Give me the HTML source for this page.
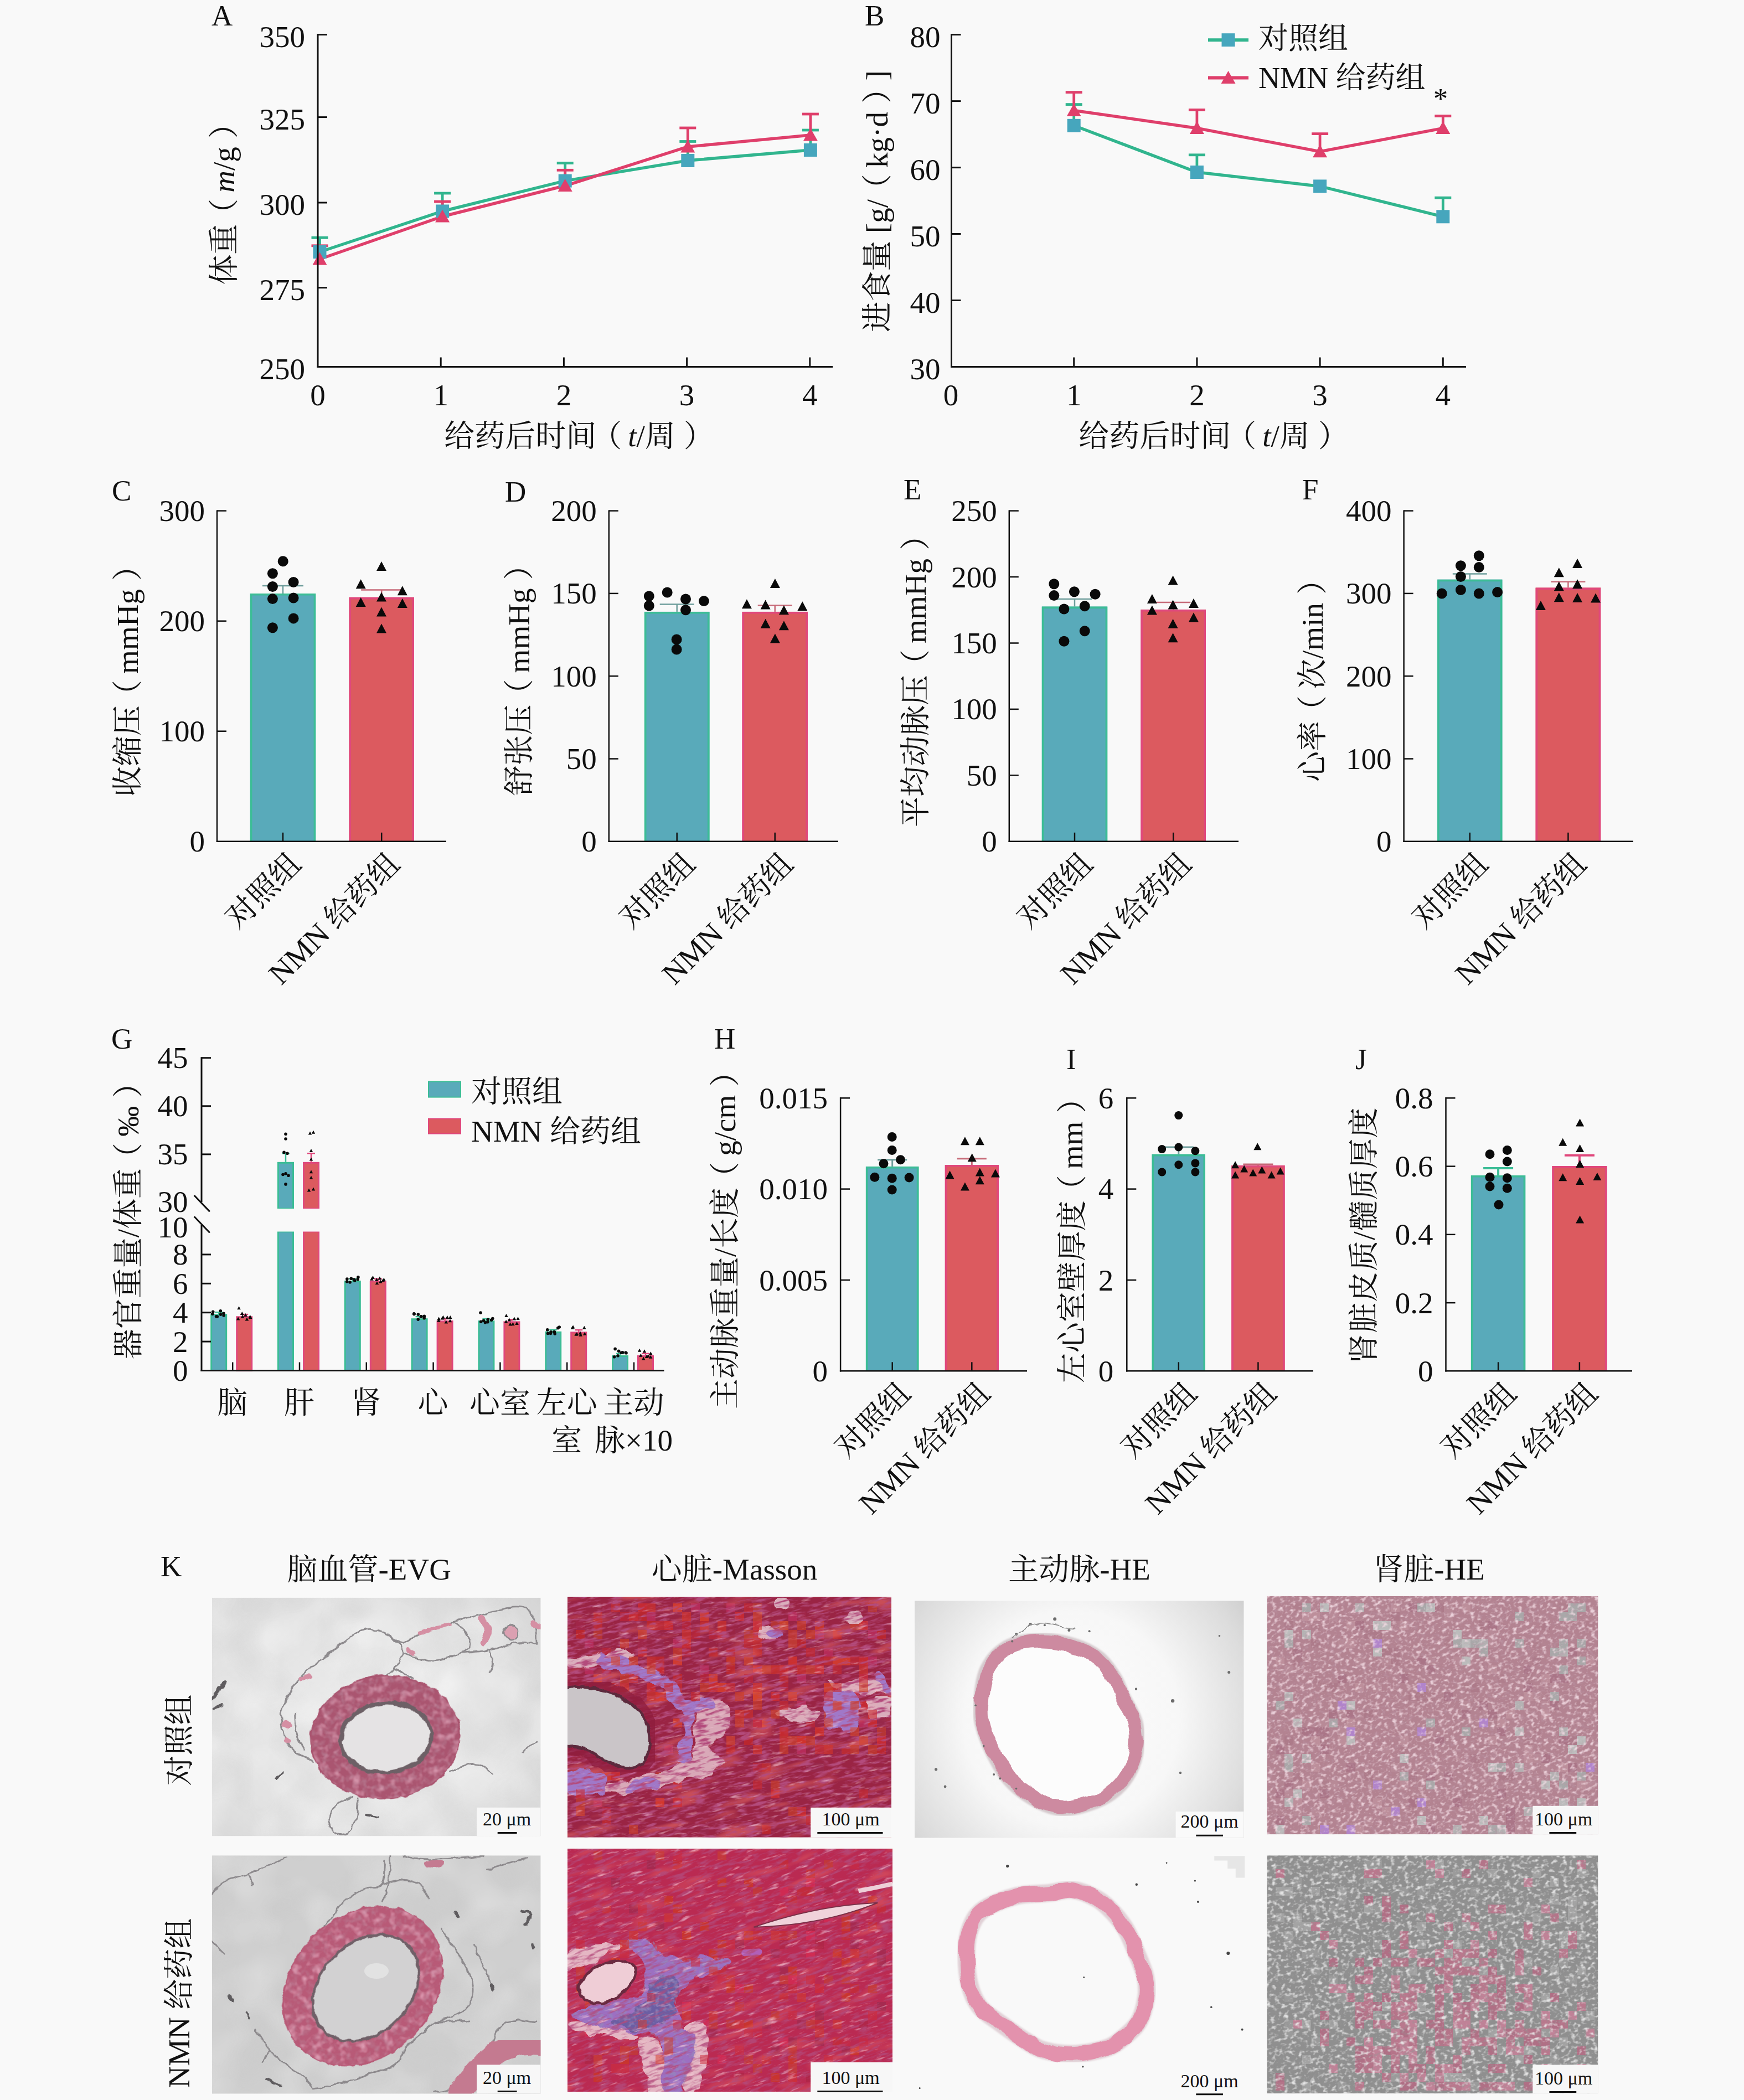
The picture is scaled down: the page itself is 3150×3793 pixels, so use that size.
<!DOCTYPE html>
<html lang="zh"><head><meta charset="utf-8"><title>Figure</title>
<style>
html,body{margin:0;padding:0;background:#f9f9f9;}
svg{display:block;}
text{font-family:"Liberation Serif","Noto Serif CJK SC",serif;fill:#111;}
</style></head><body>
<svg width="3150" height="3793" viewBox="0 0 3150 3793">
<rect width="3150" height="3793" fill="#f9f9f9"/>
<line x1="577.5" y1="455.0" x2="577.5" y2="429.3" stroke="#31b58e" stroke-width="4.8"/>
<line x1="562.5" y1="429.3" x2="592.5" y2="429.3" stroke="#31b58e" stroke-width="4.8"/>
<line x1="799.1" y1="381.5" x2="799.1" y2="349.0" stroke="#31b58e" stroke-width="4.8"/>
<line x1="784.1" y1="349.0" x2="814.1" y2="349.0" stroke="#31b58e" stroke-width="4.8"/>
<line x1="1020.7" y1="326.6" x2="1020.7" y2="294.5" stroke="#31b58e" stroke-width="4.8"/>
<line x1="1005.7" y1="294.5" x2="1035.7" y2="294.5" stroke="#31b58e" stroke-width="4.8"/>
<line x1="1242.3" y1="290.0" x2="1242.3" y2="255.5" stroke="#31b58e" stroke-width="4.8"/>
<line x1="1227.3" y1="255.5" x2="1257.3" y2="255.5" stroke="#31b58e" stroke-width="4.8"/>
<line x1="1463.9" y1="271.0" x2="1463.9" y2="235.0" stroke="#31b58e" stroke-width="4.8"/>
<line x1="1448.9" y1="235.0" x2="1478.9" y2="235.0" stroke="#31b58e" stroke-width="4.8"/>
<line x1="577.5" y1="468.0" x2="577.5" y2="443.8" stroke="#df3f6b" stroke-width="4.8"/>
<line x1="562.5" y1="443.8" x2="592.5" y2="443.8" stroke="#df3f6b" stroke-width="4.8"/>
<line x1="799.1" y1="391.0" x2="799.1" y2="364.1" stroke="#df3f6b" stroke-width="4.8"/>
<line x1="784.1" y1="364.1" x2="814.1" y2="364.1" stroke="#df3f6b" stroke-width="4.8"/>
<line x1="1020.7" y1="335.5" x2="1020.7" y2="307.3" stroke="#df3f6b" stroke-width="4.8"/>
<line x1="1005.7" y1="307.3" x2="1035.7" y2="307.3" stroke="#df3f6b" stroke-width="4.8"/>
<line x1="1242.3" y1="265.0" x2="1242.3" y2="231.0" stroke="#df3f6b" stroke-width="4.8"/>
<line x1="1227.3" y1="231.0" x2="1257.3" y2="231.0" stroke="#df3f6b" stroke-width="4.8"/>
<line x1="1463.9" y1="244.0" x2="1463.9" y2="206.0" stroke="#df3f6b" stroke-width="4.8"/>
<line x1="1448.9" y1="206.0" x2="1478.9" y2="206.0" stroke="#df3f6b" stroke-width="4.8"/>
<polyline points="577.5,455.0 799.1,381.5 1020.7,326.6 1242.3,290.0 1463.9,271.0" fill="none" stroke="#31b58e" stroke-width="5.5"/>
<polyline points="577.5,468.0 799.1,391.0 1020.7,335.5 1242.3,265.0 1463.9,244.0" fill="none" stroke="#df3f6b" stroke-width="5.5"/>
<rect x="565.5" y="443.0" width="24.0" height="24.0" fill="#46a6bd"/>
<rect x="787.1" y="369.5" width="24.0" height="24.0" fill="#46a6bd"/>
<rect x="1008.7" y="314.6" width="24.0" height="24.0" fill="#46a6bd"/>
<rect x="1230.3" y="278.0" width="24.0" height="24.0" fill="#46a6bd"/>
<rect x="1451.9" y="259.0" width="24.0" height="24.0" fill="#46a6bd"/>
<path d="M564.5 478.5L590.5 478.5L577.5 455.5Z" fill="#df3f6b"/>
<path d="M786.1 401.5L812.1 401.5L799.1 378.5Z" fill="#df3f6b"/>
<path d="M1007.7 346.0L1033.7 346.0L1020.7 323.0Z" fill="#df3f6b"/>
<path d="M1229.3 275.5L1255.3 275.5L1242.3 252.5Z" fill="#df3f6b"/>
<path d="M1450.9 254.5L1476.9 254.5L1463.9 231.5Z" fill="#df3f6b"/>
<line x1="574.0" y1="61.1" x2="574.0" y2="664.0" stroke="#111" stroke-width="3"/>
<line x1="572.5" y1="662.5" x2="1504.0" y2="662.5" stroke="#111" stroke-width="3"/>
<line x1="574.0" y1="62.6" x2="591.0" y2="62.6" stroke="#111" stroke-width="3"/>
<text x="551.0" y="84.6" font-size="55" text-anchor="end">350</text>
<line x1="574.0" y1="211.6" x2="591.0" y2="211.6" stroke="#111" stroke-width="3"/>
<text x="551.0" y="233.6" font-size="55" text-anchor="end">325</text>
<line x1="574.0" y1="366.0" x2="591.0" y2="366.0" stroke="#111" stroke-width="3"/>
<text x="551.0" y="388.0" font-size="55" text-anchor="end">300</text>
<line x1="574.0" y1="519.6" x2="591.0" y2="519.6" stroke="#111" stroke-width="3"/>
<text x="551.0" y="541.6" font-size="55" text-anchor="end">275</text>
<text x="551.0" y="684.5" font-size="55" text-anchor="end">250</text>
<text x="574.0" y="731.5" font-size="55" text-anchor="middle">0</text>
<line x1="796.2" y1="662.5" x2="796.2" y2="645.5" stroke="#111" stroke-width="3"/>
<text x="796.2" y="731.5" font-size="55" text-anchor="middle">1</text>
<line x1="1018.4" y1="662.5" x2="1018.4" y2="645.5" stroke="#111" stroke-width="3"/>
<text x="1018.4" y="731.5" font-size="55" text-anchor="middle">2</text>
<line x1="1240.6" y1="662.5" x2="1240.6" y2="645.5" stroke="#111" stroke-width="3"/>
<text x="1240.6" y="731.5" font-size="55" text-anchor="middle">3</text>
<line x1="1462.8" y1="662.5" x2="1462.8" y2="645.5" stroke="#111" stroke-width="3"/>
<text x="1462.8" y="731.5" font-size="55" text-anchor="middle">4</text>
<text x="382.0" y="46.0" font-size="53" text-anchor="start">A</text>
<text x="423.0" y="355.0" font-size="55" text-anchor="middle" transform="rotate(-90 423.0 355.0)">体重<tspan dx="-9">（</tspan><tspan dx="11"><tspan font-style="italic">m</tspan>/g</tspan><tspan dx="15">）</tspan></text>
<text x="1046.0" y="806.0" font-size="55" text-anchor="middle">给药后时间<tspan dx="-9">（</tspan><tspan dx="11"><tspan font-style="italic">t</tspan>/周</tspan><tspan dx="15">）</tspan></text>
<line x1="1939.7" y1="226.8" x2="1939.7" y2="188.6" stroke="#31b58e" stroke-width="4.8"/>
<line x1="1924.7" y1="188.6" x2="1954.7" y2="188.6" stroke="#31b58e" stroke-width="4.8"/>
<line x1="2161.9" y1="311.0" x2="2161.9" y2="279.8" stroke="#31b58e" stroke-width="4.8"/>
<line x1="2146.9" y1="279.8" x2="2176.9" y2="279.8" stroke="#31b58e" stroke-width="4.8"/>
<line x1="2606.3" y1="391.3" x2="2606.3" y2="357.2" stroke="#31b58e" stroke-width="4.8"/>
<line x1="2591.3" y1="357.2" x2="2621.3" y2="357.2" stroke="#31b58e" stroke-width="4.8"/>
<line x1="1939.7" y1="199.5" x2="1939.7" y2="166.6" stroke="#df3f6b" stroke-width="4.8"/>
<line x1="1924.7" y1="166.6" x2="1954.7" y2="166.6" stroke="#df3f6b" stroke-width="4.8"/>
<line x1="2161.9" y1="231.5" x2="2161.9" y2="198.5" stroke="#df3f6b" stroke-width="4.8"/>
<line x1="2146.9" y1="198.5" x2="2176.9" y2="198.5" stroke="#df3f6b" stroke-width="4.8"/>
<line x1="2384.1" y1="273.7" x2="2384.1" y2="241.6" stroke="#df3f6b" stroke-width="4.8"/>
<line x1="2369.1" y1="241.6" x2="2399.1" y2="241.6" stroke="#df3f6b" stroke-width="4.8"/>
<line x1="2606.3" y1="231.6" x2="2606.3" y2="209.5" stroke="#df3f6b" stroke-width="4.8"/>
<line x1="2591.3" y1="209.5" x2="2621.3" y2="209.5" stroke="#df3f6b" stroke-width="4.8"/>
<polyline points="1939.7,226.8 2161.9,311.0 2384.1,336.4 2606.3,391.3" fill="none" stroke="#31b58e" stroke-width="5.5"/>
<polyline points="1939.7,199.5 2161.9,231.5 2384.1,273.7 2606.3,231.6" fill="none" stroke="#df3f6b" stroke-width="5.5"/>
<rect x="1927.7" y="214.8" width="24.0" height="24.0" fill="#46a6bd"/>
<rect x="2149.9" y="299.0" width="24.0" height="24.0" fill="#46a6bd"/>
<rect x="2372.1" y="324.4" width="24.0" height="24.0" fill="#46a6bd"/>
<rect x="2594.3" y="379.3" width="24.0" height="24.0" fill="#46a6bd"/>
<path d="M1926.7 210.0L1952.7 210.0L1939.7 187.0Z" fill="#df3f6b"/>
<path d="M2148.9 242.0L2174.9 242.0L2161.9 219.0Z" fill="#df3f6b"/>
<path d="M2371.1 284.2L2397.1 284.2L2384.1 261.2Z" fill="#df3f6b"/>
<path d="M2593.3 242.1L2619.3 242.1L2606.3 219.1Z" fill="#df3f6b"/>
<line x1="1718.5" y1="61.1" x2="1718.5" y2="664.0" stroke="#111" stroke-width="3"/>
<line x1="1717.0" y1="662.5" x2="2648.0" y2="662.5" stroke="#111" stroke-width="3"/>
<line x1="1718.5" y1="62.6" x2="1735.5" y2="62.6" stroke="#111" stroke-width="3"/>
<text x="1698.5" y="84.6" font-size="55" text-anchor="end">80</text>
<line x1="1718.5" y1="182.6" x2="1735.5" y2="182.6" stroke="#111" stroke-width="3"/>
<text x="1698.5" y="204.6" font-size="55" text-anchor="end">70</text>
<line x1="1718.5" y1="302.6" x2="1735.5" y2="302.6" stroke="#111" stroke-width="3"/>
<text x="1698.5" y="324.6" font-size="55" text-anchor="end">60</text>
<line x1="1718.5" y1="422.5" x2="1735.5" y2="422.5" stroke="#111" stroke-width="3"/>
<text x="1698.5" y="444.5" font-size="55" text-anchor="end">50</text>
<line x1="1718.5" y1="542.5" x2="1735.5" y2="542.5" stroke="#111" stroke-width="3"/>
<text x="1698.5" y="564.5" font-size="55" text-anchor="end">40</text>
<text x="1698.5" y="684.5" font-size="55" text-anchor="end">30</text>
<text x="1717.5" y="731.5" font-size="55" text-anchor="middle">0</text>
<line x1="1939.7" y1="662.5" x2="1939.7" y2="645.5" stroke="#111" stroke-width="3"/>
<text x="1939.7" y="731.5" font-size="55" text-anchor="middle">1</text>
<line x1="2161.9" y1="662.5" x2="2161.9" y2="645.5" stroke="#111" stroke-width="3"/>
<text x="2161.9" y="731.5" font-size="55" text-anchor="middle">2</text>
<line x1="2384.1" y1="662.5" x2="2384.1" y2="645.5" stroke="#111" stroke-width="3"/>
<text x="2384.1" y="731.5" font-size="55" text-anchor="middle">3</text>
<line x1="2606.3" y1="662.5" x2="2606.3" y2="645.5" stroke="#111" stroke-width="3"/>
<text x="2606.3" y="731.5" font-size="55" text-anchor="middle">4</text>
<text x="1562.0" y="46.0" font-size="53" text-anchor="start">B</text>
<text x="1603.0" y="363.5" font-size="55" text-anchor="middle" transform="rotate(-90 1603.0 363.5)">进食量 [g/<tspan dx="-9">（</tspan><tspan dx="11">kg·d</tspan><tspan dx="15">）</tspan><tspan dx="14">]</tspan></text>
<text x="2192.0" y="806.0" font-size="55" text-anchor="middle">给药后时间<tspan dx="-9">（</tspan><tspan dx="11"><tspan font-style="italic">t</tspan>/周</tspan><tspan dx="15">）</tspan></text>
<line x1="2182.0" y1="72.2" x2="2255.0" y2="72.2" stroke="#31b58e" stroke-width="6"/>
<rect x="2206.5" y="60.2" width="24.0" height="24.0" fill="#46a6bd"/>
<line x1="2182.0" y1="140.5" x2="2255.0" y2="140.5" stroke="#df3f6b" stroke-width="6"/>
<path d="M2205.5 151.0L2231.5 151.0L2218.5 128.0Z" fill="#df3f6b"/>
<text x="2273.0" y="88.0" font-size="54" text-anchor="start">对照组</text>
<text x="2273.0" y="158.5" font-size="54" text-anchor="start">NMN 给药组</text>
<text x="2602.0" y="196.0" font-size="53" text-anchor="middle">*</text>
<rect x="451.8" y="1072.0" width="118.4" height="447.8" fill="#59aaba"/>
<path d="M453.6 1519.8V1073.8H568.4V1519.8" fill="none" stroke="#3cbd96" stroke-width="3.6"/>
<rect x="630.5" y="1078.8" width="117.5" height="441.0" fill="#dc5a5f"/>
<path d="M632.3 1519.8V1080.6H746.2V1519.8" fill="none" stroke="#e0487c" stroke-width="3.6"/>
<line x1="511.0" y1="1072.0" x2="511.0" y2="1057.9" stroke="#6f9e9c" stroke-width="2.5"/>
<line x1="474.0" y1="1057.9" x2="548.0" y2="1057.9" stroke="#6f9e9c" stroke-width="2.5"/>
<line x1="689.2" y1="1078.8" x2="689.2" y2="1065.5" stroke="#c76a78" stroke-width="2.5"/>
<line x1="652.2" y1="1065.5" x2="726.2" y2="1065.5" stroke="#c76a78" stroke-width="2.5"/>
<circle cx="511.2" cy="1013.8" r="9.5" fill="#0a0a0a"/>
<circle cx="492.4" cy="1035.8" r="9.5" fill="#0a0a0a"/>
<circle cx="492.4" cy="1059.5" r="9.5" fill="#0a0a0a"/>
<circle cx="530.1" cy="1051.5" r="9.5" fill="#0a0a0a"/>
<circle cx="492.4" cy="1081.6" r="9.5" fill="#0a0a0a"/>
<circle cx="530.1" cy="1080.0" r="9.5" fill="#0a0a0a"/>
<circle cx="530.1" cy="1116.9" r="9.5" fill="#0a0a0a"/>
<circle cx="492.4" cy="1133.8" r="9.5" fill="#0a0a0a"/>
<path d="M680.0 1031.1L698.0 1031.1L689.0 1014.1Z" fill="#0a0a0a"/>
<path d="M642.7 1063.2L660.7 1063.2L651.7 1046.2Z" fill="#0a0a0a"/>
<path d="M717.8 1075.2L735.8 1075.2L726.8 1058.2Z" fill="#0a0a0a"/>
<path d="M680.0 1086.5L698.0 1086.5L689.0 1069.5Z" fill="#0a0a0a"/>
<path d="M642.7 1096.1L660.7 1096.1L651.7 1079.1Z" fill="#0a0a0a"/>
<path d="M717.8 1098.1L735.8 1098.1L726.8 1081.1Z" fill="#0a0a0a"/>
<path d="M680.0 1113.4L698.0 1113.4L689.0 1096.4Z" fill="#0a0a0a"/>
<path d="M680.0 1143.5L698.0 1143.5L689.0 1126.5Z" fill="#0a0a0a"/>
<line x1="392.0" y1="921.4" x2="392.0" y2="1521.0" stroke="#111" stroke-width="2.5"/>
<line x1="390.8" y1="1519.8" x2="806.0" y2="1519.8" stroke="#111" stroke-width="2.5"/>
<line x1="392.0" y1="922.6" x2="409.0" y2="922.6" stroke="#111" stroke-width="2.5"/>
<text x="370.0" y="941.1" font-size="55" text-anchor="end">300</text>
<line x1="392.0" y1="1121.7" x2="409.0" y2="1121.7" stroke="#111" stroke-width="2.5"/>
<text x="370.0" y="1140.2" font-size="55" text-anchor="end">200</text>
<line x1="392.0" y1="1320.7" x2="409.0" y2="1320.7" stroke="#111" stroke-width="2.5"/>
<text x="370.0" y="1339.2" font-size="55" text-anchor="end">100</text>
<text x="370.0" y="1538.3" font-size="55" text-anchor="end">0</text>
<line x1="511.0" y1="1519.8" x2="511.0" y2="1503.8" stroke="#111" stroke-width="2.5"/>
<text x="547.0" y="1563.8" font-size="55" text-anchor="end" transform="rotate(-45 547.0 1563.8)">对照组</text>
<line x1="689.2" y1="1519.8" x2="689.2" y2="1503.8" stroke="#111" stroke-width="2.5"/>
<text x="725.2" y="1563.8" font-size="55" text-anchor="end" transform="rotate(-45 725.2 1563.8)">NMN 给药组</text>
<text x="202.0" y="904.0" font-size="53" text-anchor="start">C</text>
<text x="249.0" y="1216.5" font-size="55" text-anchor="middle" transform="rotate(-90 249.0 1216.5)">收缩压<tspan dx="-9">（</tspan><tspan dx="11">mmHg</tspan><tspan dx="15">）</tspan></text>
<rect x="1163.9" y="1104.9" width="117.6" height="414.9" fill="#59aaba"/>
<path d="M1165.7 1519.8V1106.7H1279.7V1519.8" fill="none" stroke="#3cbd96" stroke-width="3.6"/>
<rect x="1340.5" y="1104.9" width="118.4" height="414.9" fill="#dc5a5f"/>
<path d="M1342.3 1519.8V1106.7H1457.1V1519.8" fill="none" stroke="#e0487c" stroke-width="3.6"/>
<line x1="1222.7" y1="1104.9" x2="1222.7" y2="1091.6" stroke="#6f9e9c" stroke-width="2.5"/>
<line x1="1191.7" y1="1091.6" x2="1253.7" y2="1091.6" stroke="#6f9e9c" stroke-width="2.5"/>
<line x1="1399.7" y1="1104.9" x2="1399.7" y2="1093.6" stroke="#c76a78" stroke-width="2.5"/>
<line x1="1368.7" y1="1093.6" x2="1430.7" y2="1093.6" stroke="#c76a78" stroke-width="2.5"/>
<circle cx="1172.3" cy="1076.8" r="9.5" fill="#0a0a0a"/>
<circle cx="1172.3" cy="1094.0" r="9.5" fill="#0a0a0a"/>
<circle cx="1205.2" cy="1070.0" r="9.5" fill="#0a0a0a"/>
<circle cx="1238.5" cy="1082.0" r="9.5" fill="#0a0a0a"/>
<circle cx="1238.5" cy="1101.7" r="9.5" fill="#0a0a0a"/>
<circle cx="1271.4" cy="1085.6" r="9.5" fill="#0a0a0a"/>
<circle cx="1222.1" cy="1155.0" r="9.5" fill="#0a0a0a"/>
<circle cx="1222.1" cy="1173.0" r="9.5" fill="#0a0a0a"/>
<path d="M1390.9 1062.0L1408.9 1062.0L1399.9 1045.0Z" fill="#0a0a0a"/>
<path d="M1339.9 1099.3L1357.9 1099.3L1348.9 1082.3Z" fill="#0a0a0a"/>
<path d="M1373.6 1100.5L1391.6 1100.5L1382.6 1083.5Z" fill="#0a0a0a"/>
<path d="M1406.9 1110.2L1424.9 1110.2L1415.9 1093.2Z" fill="#0a0a0a"/>
<path d="M1440.3 1103.3L1458.3 1103.3L1449.3 1086.3Z" fill="#0a0a0a"/>
<path d="M1373.6 1134.7L1391.6 1134.7L1382.6 1117.7Z" fill="#0a0a0a"/>
<path d="M1406.9 1138.3L1424.9 1138.3L1415.9 1121.3Z" fill="#0a0a0a"/>
<path d="M1390.9 1161.5L1408.9 1161.5L1399.9 1144.5Z" fill="#0a0a0a"/>
<line x1="1099.8" y1="921.4" x2="1099.8" y2="1521.0" stroke="#111" stroke-width="2.5"/>
<line x1="1098.6" y1="1519.8" x2="1514.0" y2="1519.8" stroke="#111" stroke-width="2.5"/>
<line x1="1099.8" y1="922.6" x2="1116.8" y2="922.6" stroke="#111" stroke-width="2.5"/>
<text x="1077.8" y="941.1" font-size="55" text-anchor="end">200</text>
<line x1="1099.8" y1="1071.9" x2="1116.8" y2="1071.9" stroke="#111" stroke-width="2.5"/>
<text x="1077.8" y="1090.4" font-size="55" text-anchor="end">150</text>
<line x1="1099.8" y1="1221.2" x2="1116.8" y2="1221.2" stroke="#111" stroke-width="2.5"/>
<text x="1077.8" y="1239.7" font-size="55" text-anchor="end">100</text>
<line x1="1099.8" y1="1370.5" x2="1116.8" y2="1370.5" stroke="#111" stroke-width="2.5"/>
<text x="1077.8" y="1389.0" font-size="55" text-anchor="end">50</text>
<text x="1077.8" y="1538.3" font-size="55" text-anchor="end">0</text>
<line x1="1222.7" y1="1519.8" x2="1222.7" y2="1503.8" stroke="#111" stroke-width="2.5"/>
<text x="1258.7" y="1563.8" font-size="55" text-anchor="end" transform="rotate(-45 1258.7 1563.8)">对照组</text>
<line x1="1399.7" y1="1519.8" x2="1399.7" y2="1503.8" stroke="#111" stroke-width="2.5"/>
<text x="1435.7" y="1563.8" font-size="55" text-anchor="end" transform="rotate(-45 1435.7 1563.8)">NMN 给药组</text>
<text x="912.0" y="906.0" font-size="53" text-anchor="start">D</text>
<text x="956.0" y="1215.0" font-size="55" text-anchor="middle" transform="rotate(-90 956.0 1215.0)">舒张压<tspan dx="-9">（</tspan><tspan dx="11">mmHg</tspan><tspan dx="15">）</tspan></text>
<rect x="1881.8" y="1095.6" width="118.4" height="424.2" fill="#59aaba"/>
<path d="M1883.6 1519.8V1097.4H1998.4V1519.8" fill="none" stroke="#3cbd96" stroke-width="3.6"/>
<rect x="2060.4" y="1100.9" width="117.6" height="418.9" fill="#dc5a5f"/>
<path d="M2062.2 1519.8V1102.7H2176.2V1519.8" fill="none" stroke="#e0487c" stroke-width="3.6"/>
<line x1="1941.0" y1="1095.6" x2="1941.0" y2="1082.0" stroke="#6f9e9c" stroke-width="2.5"/>
<line x1="1910.0" y1="1082.0" x2="1972.0" y2="1082.0" stroke="#6f9e9c" stroke-width="2.5"/>
<line x1="2119.2" y1="1100.9" x2="2119.2" y2="1088.0" stroke="#c76a78" stroke-width="2.5"/>
<line x1="2088.2" y1="1088.0" x2="2150.2" y2="1088.0" stroke="#c76a78" stroke-width="2.5"/>
<circle cx="1903.8" cy="1054.7" r="9.5" fill="#0a0a0a"/>
<circle cx="1903.8" cy="1075.6" r="9.5" fill="#0a0a0a"/>
<circle cx="1940.4" cy="1068.8" r="9.5" fill="#0a0a0a"/>
<circle cx="1978.1" cy="1073.2" r="9.5" fill="#0a0a0a"/>
<circle cx="1921.9" cy="1100.0" r="9.5" fill="#0a0a0a"/>
<circle cx="1959.2" cy="1094.8" r="9.5" fill="#0a0a0a"/>
<circle cx="1959.2" cy="1139.8" r="9.5" fill="#0a0a0a"/>
<circle cx="1921.9" cy="1158.3" r="9.5" fill="#0a0a0a"/>
<path d="M2109.6 1056.4L2127.6 1056.4L2118.6 1039.4Z" fill="#0a0a0a"/>
<path d="M2071.9 1090.1L2089.9 1090.1L2080.9 1073.1Z" fill="#0a0a0a"/>
<path d="M2109.6 1100.5L2127.6 1100.5L2118.6 1083.5Z" fill="#0a0a0a"/>
<path d="M2146.9 1098.1L2164.9 1098.1L2155.9 1081.1Z" fill="#0a0a0a"/>
<path d="M2071.9 1110.5L2089.9 1110.5L2080.9 1093.5Z" fill="#0a0a0a"/>
<path d="M2146.9 1123.4L2164.9 1123.4L2155.9 1106.4Z" fill="#0a0a0a"/>
<path d="M2109.6 1134.7L2127.6 1134.7L2118.6 1117.7Z" fill="#0a0a0a"/>
<path d="M2109.6 1160.3L2127.6 1160.3L2118.6 1143.3Z" fill="#0a0a0a"/>
<line x1="1822.8" y1="921.4" x2="1822.8" y2="1521.0" stroke="#111" stroke-width="2.5"/>
<line x1="1821.6" y1="1519.8" x2="2237.0" y2="1519.8" stroke="#111" stroke-width="2.5"/>
<line x1="1822.8" y1="922.6" x2="1839.8" y2="922.6" stroke="#111" stroke-width="2.5"/>
<text x="1800.8" y="941.1" font-size="55" text-anchor="end">250</text>
<line x1="1822.8" y1="1042.0" x2="1839.8" y2="1042.0" stroke="#111" stroke-width="2.5"/>
<text x="1800.8" y="1060.5" font-size="55" text-anchor="end">200</text>
<line x1="1822.8" y1="1161.5" x2="1839.8" y2="1161.5" stroke="#111" stroke-width="2.5"/>
<text x="1800.8" y="1180.0" font-size="55" text-anchor="end">150</text>
<line x1="1822.8" y1="1280.9" x2="1839.8" y2="1280.9" stroke="#111" stroke-width="2.5"/>
<text x="1800.8" y="1299.4" font-size="55" text-anchor="end">100</text>
<line x1="1822.8" y1="1400.4" x2="1839.8" y2="1400.4" stroke="#111" stroke-width="2.5"/>
<text x="1800.8" y="1418.9" font-size="55" text-anchor="end">50</text>
<text x="1800.8" y="1538.3" font-size="55" text-anchor="end">0</text>
<line x1="1941.0" y1="1519.8" x2="1941.0" y2="1503.8" stroke="#111" stroke-width="2.5"/>
<text x="1977.0" y="1563.8" font-size="55" text-anchor="end" transform="rotate(-45 1977.0 1563.8)">对照组</text>
<line x1="2119.2" y1="1519.8" x2="2119.2" y2="1503.8" stroke="#111" stroke-width="2.5"/>
<text x="2155.2" y="1563.8" font-size="55" text-anchor="end" transform="rotate(-45 2155.2 1563.8)">NMN 给药组</text>
<text x="1632.0" y="902.0" font-size="53" text-anchor="start">E</text>
<text x="1672.0" y="1216.5" font-size="55" text-anchor="middle" transform="rotate(-90 1672.0 1216.5)">平均动脉压<tspan dx="-9">（</tspan><tspan dx="11">mmHg</tspan><tspan dx="15">）</tspan></text>
<rect x="2596.2" y="1046.7" width="117.2" height="473.1" fill="#59aaba"/>
<path d="M2598.0 1519.8V1048.5H2711.6V1519.8" fill="none" stroke="#3cbd96" stroke-width="3.6"/>
<rect x="2773.6" y="1061.5" width="117.6" height="458.3" fill="#dc5a5f"/>
<path d="M2775.4 1519.8V1063.3H2889.4V1519.8" fill="none" stroke="#e0487c" stroke-width="3.6"/>
<line x1="2654.8" y1="1046.7" x2="2654.8" y2="1036.6" stroke="#6f9e9c" stroke-width="2.5"/>
<line x1="2623.8" y1="1036.6" x2="2685.8" y2="1036.6" stroke="#6f9e9c" stroke-width="2.5"/>
<line x1="2832.4" y1="1061.5" x2="2832.4" y2="1050.7" stroke="#c76a78" stroke-width="2.5"/>
<line x1="2801.4" y1="1050.7" x2="2863.4" y2="1050.7" stroke="#c76a78" stroke-width="2.5"/>
<circle cx="2671.3" cy="1003.7" r="9.5" fill="#0a0a0a"/>
<circle cx="2638.4" cy="1021.8" r="9.5" fill="#0a0a0a"/>
<circle cx="2671.3" cy="1024.6" r="9.5" fill="#0a0a0a"/>
<circle cx="2638.4" cy="1041.5" r="9.5" fill="#0a0a0a"/>
<circle cx="2638.4" cy="1065.5" r="9.5" fill="#0a0a0a"/>
<circle cx="2604.2" cy="1072.0" r="9.5" fill="#0a0a0a"/>
<circle cx="2671.3" cy="1072.0" r="9.5" fill="#0a0a0a"/>
<circle cx="2704.6" cy="1069.6" r="9.5" fill="#0a0a0a"/>
<path d="M2840.1 1025.9L2858.1 1025.9L2849.1 1008.9Z" fill="#0a0a0a"/>
<path d="M2806.8 1042.3L2824.8 1042.3L2815.8 1025.3Z" fill="#0a0a0a"/>
<path d="M2840.1 1063.2L2858.1 1063.2L2849.1 1046.2Z" fill="#0a0a0a"/>
<path d="M2806.8 1067.2L2824.8 1067.2L2815.8 1050.2Z" fill="#0a0a0a"/>
<path d="M2806.8 1087.3L2824.8 1087.3L2815.8 1070.3Z" fill="#0a0a0a"/>
<path d="M2840.1 1088.1L2858.1 1088.1L2849.1 1071.1Z" fill="#0a0a0a"/>
<path d="M2873.0 1088.5L2891.0 1088.5L2882.0 1071.5Z" fill="#0a0a0a"/>
<path d="M2773.9 1102.1L2791.9 1102.1L2782.9 1085.1Z" fill="#0a0a0a"/>
<line x1="2535.6" y1="921.4" x2="2535.6" y2="1521.0" stroke="#111" stroke-width="2.5"/>
<line x1="2534.4" y1="1519.8" x2="2950.0" y2="1519.8" stroke="#111" stroke-width="2.5"/>
<line x1="2535.6" y1="922.6" x2="2552.6" y2="922.6" stroke="#111" stroke-width="2.5"/>
<text x="2513.6" y="941.1" font-size="55" text-anchor="end">400</text>
<line x1="2535.6" y1="1071.9" x2="2552.6" y2="1071.9" stroke="#111" stroke-width="2.5"/>
<text x="2513.6" y="1090.4" font-size="55" text-anchor="end">300</text>
<line x1="2535.6" y1="1221.2" x2="2552.6" y2="1221.2" stroke="#111" stroke-width="2.5"/>
<text x="2513.6" y="1239.7" font-size="55" text-anchor="end">200</text>
<line x1="2535.6" y1="1370.5" x2="2552.6" y2="1370.5" stroke="#111" stroke-width="2.5"/>
<text x="2513.6" y="1389.0" font-size="55" text-anchor="end">100</text>
<text x="2513.6" y="1538.3" font-size="55" text-anchor="end">0</text>
<line x1="2654.8" y1="1519.8" x2="2654.8" y2="1503.8" stroke="#111" stroke-width="2.5"/>
<text x="2690.8" y="1563.8" font-size="55" text-anchor="end" transform="rotate(-45 2690.8 1563.8)">对照组</text>
<line x1="2832.4" y1="1519.8" x2="2832.4" y2="1503.8" stroke="#111" stroke-width="2.5"/>
<text x="2868.4" y="1563.8" font-size="55" text-anchor="end" transform="rotate(-45 2868.4 1563.8)">NMN 给药组</text>
<text x="2352.0" y="902.0" font-size="53" text-anchor="start">F</text>
<text x="2389.0" y="1215.5" font-size="55" text-anchor="middle" transform="rotate(-90 2389.0 1215.5)">心率<tspan dx="-9">（</tspan><tspan dx="11">次/min</tspan><tspan dx="15">）</tspan></text>
<rect x="1563.9" y="2106.9" width="95.5" height="369.4" fill="#59aaba"/>
<path d="M1565.7 2476.3V2108.7H1657.6V2476.3" fill="none" stroke="#3cbd96" stroke-width="3.6"/>
<rect x="1706.8" y="2104.0" width="97.1" height="372.3" fill="#dc5a5f"/>
<path d="M1708.6 2476.3V2105.8H1802.1V2476.3" fill="none" stroke="#e0487c" stroke-width="3.6"/>
<line x1="1611.7" y1="2106.9" x2="1611.7" y2="2094.8" stroke="#6f9e9c" stroke-width="3"/>
<line x1="1585.2" y1="2094.8" x2="1638.2" y2="2094.8" stroke="#6f9e9c" stroke-width="3"/>
<line x1="1755.3" y1="2104.0" x2="1755.3" y2="2092.8" stroke="#c76a78" stroke-width="3"/>
<line x1="1728.8" y1="2092.8" x2="1781.8" y2="2092.8" stroke="#c76a78" stroke-width="3"/>
<circle cx="1611.2" cy="2053.5" r="8.5" fill="#0a0a0a"/>
<circle cx="1611.2" cy="2077.6" r="8.5" fill="#0a0a0a"/>
<circle cx="1626.5" cy="2094.8" r="8.5" fill="#0a0a0a"/>
<circle cx="1596.0" cy="2101.7" r="8.5" fill="#0a0a0a"/>
<circle cx="1579.9" cy="2126.2" r="8.5" fill="#0a0a0a"/>
<circle cx="1611.2" cy="2128.2" r="8.5" fill="#0a0a0a"/>
<circle cx="1642.1" cy="2127.0" r="8.5" fill="#0a0a0a"/>
<circle cx="1611.2" cy="2149.0" r="8.5" fill="#0a0a0a"/>
<path d="M1734.9 2068.2L1750.9 2068.2L1742.9 2053.2Z" fill="#0a0a0a"/>
<path d="M1761.8 2068.2L1777.8 2068.2L1769.8 2053.2Z" fill="#0a0a0a"/>
<path d="M1747.7 2098.3L1763.7 2098.3L1755.7 2083.3Z" fill="#0a0a0a"/>
<path d="M1707.6 2129.6L1723.6 2129.6L1715.6 2114.6Z" fill="#0a0a0a"/>
<path d="M1761.8 2124.4L1777.8 2124.4L1769.8 2109.4Z" fill="#0a0a0a"/>
<path d="M1789.9 2126.4L1805.9 2126.4L1797.9 2111.4Z" fill="#0a0a0a"/>
<path d="M1761.8 2139.3L1777.8 2139.3L1769.8 2124.3Z" fill="#0a0a0a"/>
<path d="M1734.9 2150.5L1750.9 2150.5L1742.9 2135.5Z" fill="#0a0a0a"/>
<line x1="1518.1" y1="1982.1" x2="1518.1" y2="2477.5" stroke="#111" stroke-width="2.5"/>
<line x1="1516.9" y1="2476.3" x2="1855.0" y2="2476.3" stroke="#111" stroke-width="2.5"/>
<line x1="1518.1" y1="1983.3" x2="1535.1" y2="1983.3" stroke="#111" stroke-width="2.5"/>
<text x="1495.1" y="2001.8" font-size="55" text-anchor="end">0.015</text>
<line x1="1518.1" y1="2147.6" x2="1535.1" y2="2147.6" stroke="#111" stroke-width="2.5"/>
<text x="1495.1" y="2166.1" font-size="55" text-anchor="end">0.010</text>
<line x1="1518.1" y1="2312.0" x2="1535.1" y2="2312.0" stroke="#111" stroke-width="2.5"/>
<text x="1495.1" y="2330.5" font-size="55" text-anchor="end">0.005</text>
<text x="1495.1" y="2494.8" font-size="55" text-anchor="end">0</text>
<line x1="1611.7" y1="2476.3" x2="1611.7" y2="2460.3" stroke="#111" stroke-width="2.5"/>
<text x="1647.7" y="2520.3" font-size="55" text-anchor="end" transform="rotate(-45 1647.7 2520.3)">对照组</text>
<line x1="1755.3" y1="2476.3" x2="1755.3" y2="2460.3" stroke="#111" stroke-width="2.5"/>
<text x="1791.3" y="2520.3" font-size="55" text-anchor="end" transform="rotate(-45 1791.3 2520.3)">NMN 给药组</text>
<text x="1290.0" y="1893.5" font-size="53" text-anchor="start">H</text>
<text x="1328.0" y="2226.3" font-size="55" text-anchor="middle" transform="rotate(-90 1328.0 2226.3)">主动脉重量/长度<tspan dx="-9">（</tspan><tspan dx="11">g/cm</tspan><tspan dx="15">）</tspan></text>
<rect x="2080.6" y="2084.8" width="96.4" height="391.5" fill="#59aaba"/>
<path d="M2082.4 2476.3V2086.6H2175.2V2476.3" fill="none" stroke="#3cbd96" stroke-width="3.6"/>
<rect x="2224.3" y="2104.9" width="96.3" height="371.4" fill="#dc5a5f"/>
<path d="M2226.1 2476.3V2106.7H2318.8V2476.3" fill="none" stroke="#e0487c" stroke-width="3.6"/>
<line x1="2128.8" y1="2084.8" x2="2128.8" y2="2072.0" stroke="#6f9e9c" stroke-width="3"/>
<line x1="2101.8" y1="2072.0" x2="2155.8" y2="2072.0" stroke="#6f9e9c" stroke-width="3"/>
<line x1="2272.4" y1="2104.9" x2="2272.4" y2="2102.9" stroke="#c76a78" stroke-width="3"/>
<line x1="2245.4" y1="2102.9" x2="2299.4" y2="2102.9" stroke="#c76a78" stroke-width="3"/>
<circle cx="2128.8" cy="2014.6" r="7.5" fill="#0a0a0a"/>
<circle cx="2098.7" cy="2075.6" r="7.5" fill="#0a0a0a"/>
<circle cx="2128.8" cy="2072.0" r="7.5" fill="#0a0a0a"/>
<circle cx="2158.9" cy="2078.8" r="7.5" fill="#0a0a0a"/>
<circle cx="2128.8" cy="2103.7" r="7.5" fill="#0a0a0a"/>
<circle cx="2158.9" cy="2100.9" r="7.5" fill="#0a0a0a"/>
<circle cx="2098.7" cy="2116.9" r="7.5" fill="#0a0a0a"/>
<circle cx="2158.9" cy="2116.9" r="7.5" fill="#0a0a0a"/>
<path d="M2264.3 2077.3L2278.3 2077.3L2271.3 2064.3Z" fill="#0a0a0a"/>
<path d="M2224.1 2110.2L2238.1 2110.2L2231.1 2097.2Z" fill="#0a0a0a"/>
<path d="M2240.2 2117.4L2254.2 2117.4L2247.2 2104.4Z" fill="#0a0a0a"/>
<path d="M2272.3 2119.4L2286.3 2119.4L2279.3 2106.4Z" fill="#0a0a0a"/>
<path d="M2305.6 2121.4L2319.6 2121.4L2312.6 2108.4Z" fill="#0a0a0a"/>
<path d="M2256.2 2124.6L2270.2 2124.6L2263.2 2111.6Z" fill="#0a0a0a"/>
<path d="M2224.1 2128.6L2238.1 2128.6L2231.1 2115.6Z" fill="#0a0a0a"/>
<path d="M2289.6 2128.6L2303.6 2128.6L2296.6 2115.6Z" fill="#0a0a0a"/>
<line x1="2035.3" y1="1982.1" x2="2035.3" y2="2477.5" stroke="#111" stroke-width="2.5"/>
<line x1="2034.1" y1="2476.3" x2="2372.0" y2="2476.3" stroke="#111" stroke-width="2.5"/>
<line x1="2035.3" y1="1983.3" x2="2052.3" y2="1983.3" stroke="#111" stroke-width="2.5"/>
<text x="2011.3" y="2001.8" font-size="55" text-anchor="end">6</text>
<line x1="2035.3" y1="2147.6" x2="2052.3" y2="2147.6" stroke="#111" stroke-width="2.5"/>
<text x="2011.3" y="2166.1" font-size="55" text-anchor="end">4</text>
<line x1="2035.3" y1="2312.0" x2="2052.3" y2="2312.0" stroke="#111" stroke-width="2.5"/>
<text x="2011.3" y="2330.5" font-size="55" text-anchor="end">2</text>
<text x="2011.3" y="2494.8" font-size="55" text-anchor="end">0</text>
<line x1="2128.8" y1="2476.3" x2="2128.8" y2="2460.3" stroke="#111" stroke-width="2.5"/>
<text x="2164.8" y="2520.3" font-size="55" text-anchor="end" transform="rotate(-45 2164.8 2520.3)">对照组</text>
<line x1="2272.4" y1="2476.3" x2="2272.4" y2="2460.3" stroke="#111" stroke-width="2.5"/>
<text x="2308.4" y="2520.3" font-size="55" text-anchor="end" transform="rotate(-45 2308.4 2520.3)">NMN 给药组</text>
<text x="1926.0" y="1930.5" font-size="53" text-anchor="start">I</text>
<text x="1955.0" y="2227.0" font-size="55" text-anchor="middle" transform="rotate(-90 1955.0 2227.0)">左心室壁厚度<tspan dx="-9">（</tspan><tspan dx="11">mm</tspan><tspan dx="15">）</tspan></text>
<rect x="2656.9" y="2122.9" width="98.3" height="353.4" fill="#59aaba"/>
<path d="M2658.7 2476.3V2124.7H2753.4V2476.3" fill="none" stroke="#3cbd96" stroke-width="3.6"/>
<rect x="2803.4" y="2106.0" width="99.1" height="370.3" fill="#dc5a5f"/>
<path d="M2805.2 2476.3V2107.8H2900.7V2476.3" fill="none" stroke="#e0487c" stroke-width="3.6"/>
<line x1="2706.1" y1="2122.9" x2="2706.1" y2="2110.1" stroke="#3cbd96" stroke-width="4"/>
<line x1="2679.1" y1="2110.1" x2="2733.1" y2="2110.1" stroke="#3cbd96" stroke-width="4"/>
<line x1="2852.9" y1="2106.0" x2="2852.9" y2="2086.8" stroke="#e0487c" stroke-width="4"/>
<line x1="2825.9" y1="2086.8" x2="2879.9" y2="2086.8" stroke="#e0487c" stroke-width="4"/>
<circle cx="2691.0" cy="2084.8" r="8.5" fill="#0a0a0a"/>
<circle cx="2722.3" cy="2077.6" r="8.5" fill="#0a0a0a"/>
<circle cx="2722.3" cy="2098.0" r="8.5" fill="#0a0a0a"/>
<circle cx="2691.0" cy="2126.2" r="8.5" fill="#0a0a0a"/>
<circle cx="2722.3" cy="2127.8" r="8.5" fill="#0a0a0a"/>
<circle cx="2691.0" cy="2143.0" r="8.5" fill="#0a0a0a"/>
<circle cx="2722.3" cy="2146.2" r="8.5" fill="#0a0a0a"/>
<circle cx="2707.0" cy="2175.9" r="8.5" fill="#0a0a0a"/>
<path d="M2846.1 2034.4L2861.1 2034.4L2853.6 2020.4Z" fill="#0a0a0a"/>
<path d="M2815.2 2069.7L2830.2 2069.7L2822.7 2055.7Z" fill="#0a0a0a"/>
<path d="M2846.1 2081.0L2861.1 2081.0L2853.6 2067.0Z" fill="#0a0a0a"/>
<path d="M2846.1 2109.1L2861.1 2109.1L2853.6 2095.1Z" fill="#0a0a0a"/>
<path d="M2815.2 2133.2L2830.2 2133.2L2822.7 2119.2Z" fill="#0a0a0a"/>
<path d="M2846.1 2140.0L2861.1 2140.0L2853.6 2126.0Z" fill="#0a0a0a"/>
<path d="M2877.4 2132.0L2892.4 2132.0L2884.9 2118.0Z" fill="#0a0a0a"/>
<path d="M2846.1 2209.4L2861.1 2209.4L2853.6 2195.4Z" fill="#0a0a0a"/>
<line x1="2611.5" y1="1982.1" x2="2611.5" y2="2477.5" stroke="#111" stroke-width="2.5"/>
<line x1="2610.3" y1="2476.3" x2="2948.0" y2="2476.3" stroke="#111" stroke-width="2.5"/>
<line x1="2611.5" y1="1983.3" x2="2628.5" y2="1983.3" stroke="#111" stroke-width="2.5"/>
<text x="2588.5" y="2001.8" font-size="55" text-anchor="end">0.8</text>
<line x1="2611.5" y1="2106.6" x2="2628.5" y2="2106.6" stroke="#111" stroke-width="2.5"/>
<text x="2588.5" y="2125.1" font-size="55" text-anchor="end">0.6</text>
<line x1="2611.5" y1="2229.8" x2="2628.5" y2="2229.8" stroke="#111" stroke-width="2.5"/>
<text x="2588.5" y="2248.3" font-size="55" text-anchor="end">0.4</text>
<line x1="2611.5" y1="2353.1" x2="2628.5" y2="2353.1" stroke="#111" stroke-width="2.5"/>
<text x="2588.5" y="2371.6" font-size="55" text-anchor="end">0.2</text>
<text x="2588.5" y="2494.8" font-size="55" text-anchor="end">0</text>
<line x1="2706.1" y1="2476.3" x2="2706.1" y2="2460.3" stroke="#111" stroke-width="2.5"/>
<text x="2742.1" y="2520.3" font-size="55" text-anchor="end" transform="rotate(-45 2742.1 2520.3)">对照组</text>
<line x1="2852.9" y1="2476.3" x2="2852.9" y2="2460.3" stroke="#111" stroke-width="2.5"/>
<text x="2888.9" y="2520.3" font-size="55" text-anchor="end" transform="rotate(-45 2888.9 2520.3)">NMN 给药组</text>
<text x="2448.0" y="1930.5" font-size="53" text-anchor="start">J</text>
<text x="2481.5" y="2231.5" font-size="55" text-anchor="middle" transform="rotate(-90 2481.5 2231.5)" letter-spacing="1">肾脏皮质/髓质厚度</text>
<rect x="381.7" y="2374.8" width="27.0" height="100.7" fill="#59aaba" stroke="#3cbd96" stroke-width="3"/>
<line x1="395.2" y1="2373.3" x2="395.2" y2="2370.2" stroke="#3cbd96" stroke-width="2.5"/>
<line x1="388.2" y1="2370.2" x2="402.2" y2="2370.2" stroke="#3cbd96" stroke-width="2.5"/>
<circle cx="384.7" cy="2369.2" r="2.8" fill="#0a0a0a"/>
<circle cx="392.3" cy="2378.1" r="2.8" fill="#0a0a0a"/>
<circle cx="398.6" cy="2374.1" r="2.8" fill="#0a0a0a"/>
<circle cx="403.9" cy="2372.2" r="2.8" fill="#0a0a0a"/>
<circle cx="383.8" cy="2373.2" r="2.8" fill="#0a0a0a"/>
<circle cx="390.6" cy="2377.8" r="2.8" fill="#0a0a0a"/>
<circle cx="398.3" cy="2367.8" r="2.8" fill="#0a0a0a"/>
<circle cx="404.1" cy="2376.0" r="2.8" fill="#0a0a0a"/>
<rect x="427.7" y="2378.8" width="27.0" height="96.8" fill="#dc5a5f" stroke="#e0487c" stroke-width="3"/>
<line x1="441.2" y1="2377.2" x2="441.2" y2="2374.1" stroke="#e0487c" stroke-width="2.5"/>
<line x1="434.2" y1="2374.1" x2="448.2" y2="2374.1" stroke="#e0487c" stroke-width="2.5"/>
<path d="M428.3 2365.2L434.8 2365.2L431.6 2359.2Z" fill="#0a0a0a"/>
<path d="M434.8 2380.6L441.3 2380.6L438.1 2374.6Z" fill="#0a0a0a"/>
<path d="M442.7 2385.4L449.2 2385.4L446.0 2379.4Z" fill="#0a0a0a"/>
<path d="M449.0 2382.1L455.5 2382.1L452.3 2376.1Z" fill="#0a0a0a"/>
<path d="M426.9 2384.4L433.4 2384.4L430.1 2378.4Z" fill="#0a0a0a"/>
<path d="M434.0 2374.9L440.5 2374.9L437.3 2368.9Z" fill="#0a0a0a"/>
<path d="M440.3 2378.1L446.8 2378.1L443.6 2372.1Z" fill="#0a0a0a"/>
<path d="M448.4 2380.9L454.9 2380.9L451.6 2374.9Z" fill="#0a0a0a"/>
<line x1="420.2" y1="2475.5" x2="420.2" y2="2460.5" stroke="#111" stroke-width="2.5"/>
<text x="419.7" y="2552.0" font-size="55" text-anchor="middle">脑</text>
<rect x="502.5" y="2100.3" width="27.0" height="82.7" fill="#59aaba" stroke="#3cbd96" stroke-width="3"/>
<rect x="502.5" y="2224.5" width="27.0" height="251.0" fill="#59aaba" stroke="#3cbd96" stroke-width="3"/>
<rect x="500.0" y="2183.0" width="32.0" height="3.0" fill="#f9f9f9"/>
<rect x="500.0" y="2221.5" width="32.0" height="3.0" fill="#f9f9f9"/>
<line x1="516.0" y1="2098.8" x2="516.0" y2="2083.2" stroke="#3cbd96" stroke-width="2.5"/>
<line x1="509.0" y1="2083.2" x2="523.0" y2="2083.2" stroke="#3cbd96" stroke-width="2.5"/>
<circle cx="516.0" cy="2048.3" r="2.8" fill="#0a0a0a"/>
<circle cx="516.0" cy="2057.0" r="2.8" fill="#0a0a0a"/>
<circle cx="513.0" cy="2081.4" r="2.8" fill="#0a0a0a"/>
<circle cx="519.0" cy="2083.2" r="2.8" fill="#0a0a0a"/>
<circle cx="511.0" cy="2121.5" r="2.8" fill="#0a0a0a"/>
<circle cx="516.0" cy="2119.7" r="2.8" fill="#0a0a0a"/>
<circle cx="521.0" cy="2123.2" r="2.8" fill="#0a0a0a"/>
<circle cx="516.0" cy="2138.9" r="2.8" fill="#0a0a0a"/>
<rect x="548.5" y="2100.3" width="27.0" height="82.7" fill="#dc5a5f" stroke="#e0487c" stroke-width="3"/>
<rect x="548.5" y="2224.5" width="27.0" height="251.0" fill="#dc5a5f" stroke="#e0487c" stroke-width="3"/>
<rect x="546.0" y="2183.0" width="32.0" height="3.0" fill="#f9f9f9"/>
<rect x="546.0" y="2221.5" width="32.0" height="3.0" fill="#f9f9f9"/>
<line x1="562.0" y1="2098.8" x2="562.0" y2="2083.2" stroke="#e0487c" stroke-width="2.5"/>
<line x1="555.0" y1="2083.2" x2="569.0" y2="2083.2" stroke="#e0487c" stroke-width="2.5"/>
<path d="M556.8 2049.6L563.2 2049.6L560.0 2043.6Z" fill="#0a0a0a"/>
<path d="M562.8 2047.8L569.2 2047.8L566.0 2041.8Z" fill="#0a0a0a"/>
<path d="M558.8 2080.9L565.2 2080.9L562.0 2074.9Z" fill="#0a0a0a"/>
<path d="M558.8 2096.6L565.2 2096.6L562.0 2090.6Z" fill="#0a0a0a"/>
<path d="M558.8 2119.3L565.2 2119.3L562.0 2113.3Z" fill="#0a0a0a"/>
<path d="M558.8 2129.7L565.2 2129.7L562.0 2123.7Z" fill="#0a0a0a"/>
<path d="M554.8 2152.4L561.2 2152.4L558.0 2146.4Z" fill="#0a0a0a"/>
<path d="M562.8 2150.6L569.2 2150.6L566.0 2144.6Z" fill="#0a0a0a"/>
<line x1="541.0" y1="2475.5" x2="541.0" y2="2460.5" stroke="#111" stroke-width="2.5"/>
<text x="540.5" y="2552.0" font-size="55" text-anchor="middle">肝</text>
<rect x="623.3" y="2314.6" width="27.0" height="160.9" fill="#59aaba" stroke="#3cbd96" stroke-width="3"/>
<line x1="636.8" y1="2313.1" x2="636.8" y2="2309.9" stroke="#3cbd96" stroke-width="2.5"/>
<line x1="629.8" y1="2309.9" x2="643.8" y2="2309.9" stroke="#3cbd96" stroke-width="2.5"/>
<circle cx="626.9" cy="2310.1" r="2.8" fill="#0a0a0a"/>
<circle cx="632.1" cy="2316.0" r="2.8" fill="#0a0a0a"/>
<circle cx="640.7" cy="2313.0" r="2.8" fill="#0a0a0a"/>
<circle cx="646.2" cy="2310.8" r="2.8" fill="#0a0a0a"/>
<circle cx="626.7" cy="2314.7" r="2.8" fill="#0a0a0a"/>
<circle cx="634.3" cy="2309.3" r="2.8" fill="#0a0a0a"/>
<circle cx="639.4" cy="2311.0" r="2.8" fill="#0a0a0a"/>
<circle cx="646.9" cy="2306.9" r="2.8" fill="#0a0a0a"/>
<rect x="669.3" y="2314.6" width="27.0" height="160.9" fill="#dc5a5f" stroke="#e0487c" stroke-width="3"/>
<line x1="682.8" y1="2313.1" x2="682.8" y2="2309.9" stroke="#e0487c" stroke-width="2.5"/>
<line x1="675.8" y1="2309.9" x2="689.8" y2="2309.9" stroke="#e0487c" stroke-width="2.5"/>
<path d="M670.2 2310.0L676.7 2310.0L673.5 2304.0Z" fill="#0a0a0a"/>
<path d="M677.7 2320.2L684.2 2320.2L680.9 2314.2Z" fill="#0a0a0a"/>
<path d="M682.6 2311.5L689.1 2311.5L685.9 2305.5Z" fill="#0a0a0a"/>
<path d="M688.5 2315.2L695.0 2315.2L691.8 2309.2Z" fill="#0a0a0a"/>
<path d="M668.2 2312.7L674.7 2312.7L671.4 2306.7Z" fill="#0a0a0a"/>
<path d="M677.0 2314.0L683.5 2314.0L680.3 2308.0Z" fill="#0a0a0a"/>
<path d="M684.0 2317.5L690.5 2317.5L687.3 2311.5Z" fill="#0a0a0a"/>
<path d="M690.1 2313.7L696.6 2313.7L693.4 2307.7Z" fill="#0a0a0a"/>
<line x1="661.8" y1="2475.5" x2="661.8" y2="2460.5" stroke="#111" stroke-width="2.5"/>
<text x="661.3" y="2552.0" font-size="55" text-anchor="middle">肾</text>
<rect x="744.1" y="2382.7" width="27.0" height="92.8" fill="#59aaba" stroke="#3cbd96" stroke-width="3"/>
<line x1="757.6" y1="2381.2" x2="757.6" y2="2378.0" stroke="#3cbd96" stroke-width="2.5"/>
<line x1="750.6" y1="2378.0" x2="764.6" y2="2378.0" stroke="#3cbd96" stroke-width="2.5"/>
<circle cx="747.8" cy="2372.9" r="2.8" fill="#0a0a0a"/>
<circle cx="755.3" cy="2374.1" r="2.8" fill="#0a0a0a"/>
<circle cx="760.9" cy="2377.9" r="2.8" fill="#0a0a0a"/>
<circle cx="766.3" cy="2377.4" r="2.8" fill="#0a0a0a"/>
<circle cx="748.0" cy="2373.4" r="2.8" fill="#0a0a0a"/>
<circle cx="755.2" cy="2383.1" r="2.8" fill="#0a0a0a"/>
<circle cx="760.6" cy="2377.8" r="2.8" fill="#0a0a0a"/>
<circle cx="766.2" cy="2380.7" r="2.8" fill="#0a0a0a"/>
<rect x="790.1" y="2386.6" width="27.0" height="88.9" fill="#dc5a5f" stroke="#e0487c" stroke-width="3"/>
<line x1="803.6" y1="2385.1" x2="803.6" y2="2382.0" stroke="#e0487c" stroke-width="2.5"/>
<line x1="796.6" y1="2382.0" x2="810.6" y2="2382.0" stroke="#e0487c" stroke-width="2.5"/>
<path d="M789.4 2384.4L795.9 2384.4L792.6 2378.4Z" fill="#0a0a0a"/>
<path d="M795.7 2383.4L802.2 2383.4L798.9 2377.4Z" fill="#0a0a0a"/>
<path d="M802.6 2390.5L809.1 2390.5L805.8 2384.5Z" fill="#0a0a0a"/>
<path d="M810.0 2382.0L816.5 2382.0L813.3 2376.0Z" fill="#0a0a0a"/>
<path d="M789.1 2387.8L795.6 2387.8L792.3 2381.8Z" fill="#0a0a0a"/>
<path d="M797.2 2381.8L803.7 2381.8L800.4 2375.8Z" fill="#0a0a0a"/>
<path d="M804.6 2382.1L811.1 2382.1L807.9 2376.1Z" fill="#0a0a0a"/>
<path d="M809.7 2388.2L816.2 2388.2L812.9 2382.2Z" fill="#0a0a0a"/>
<line x1="782.6" y1="2475.5" x2="782.6" y2="2460.5" stroke="#111" stroke-width="2.5"/>
<text x="782.1" y="2552.0" font-size="55" text-anchor="middle">心</text>
<rect x="864.9" y="2386.6" width="27.0" height="88.9" fill="#59aaba" stroke="#3cbd96" stroke-width="3"/>
<line x1="878.4" y1="2385.1" x2="878.4" y2="2382.0" stroke="#3cbd96" stroke-width="2.5"/>
<line x1="871.4" y1="2382.0" x2="885.4" y2="2382.0" stroke="#3cbd96" stroke-width="2.5"/>
<circle cx="868.0" cy="2371.0" r="2.8" fill="#0a0a0a"/>
<circle cx="876.4" cy="2388.8" r="2.8" fill="#0a0a0a"/>
<circle cx="880.8" cy="2387.7" r="2.8" fill="#0a0a0a"/>
<circle cx="887.6" cy="2384.3" r="2.8" fill="#0a0a0a"/>
<circle cx="868.7" cy="2387.3" r="2.8" fill="#0a0a0a"/>
<circle cx="873.6" cy="2385.2" r="2.8" fill="#0a0a0a"/>
<circle cx="881.3" cy="2383.2" r="2.8" fill="#0a0a0a"/>
<circle cx="889.8" cy="2381.5" r="2.8" fill="#0a0a0a"/>
<rect x="910.9" y="2387.9" width="27.0" height="87.6" fill="#dc5a5f" stroke="#e0487c" stroke-width="3"/>
<line x1="924.4" y1="2386.4" x2="924.4" y2="2383.3" stroke="#e0487c" stroke-width="2.5"/>
<line x1="917.4" y1="2383.3" x2="931.4" y2="2383.3" stroke="#e0487c" stroke-width="2.5"/>
<path d="M911.2 2378.9L917.7 2378.9L914.4 2372.9Z" fill="#0a0a0a"/>
<path d="M918.3 2394.4L924.8 2394.4L921.6 2388.4Z" fill="#0a0a0a"/>
<path d="M925.7 2384.6L932.2 2384.6L928.9 2378.6Z" fill="#0a0a0a"/>
<path d="M932.3 2384.3L938.8 2384.3L935.5 2378.3Z" fill="#0a0a0a"/>
<path d="M910.8 2389.7L917.3 2389.7L914.1 2383.7Z" fill="#0a0a0a"/>
<path d="M916.6 2386.5L923.1 2386.5L919.9 2380.5Z" fill="#0a0a0a"/>
<path d="M923.2 2394.3L929.7 2394.3L926.4 2388.3Z" fill="#0a0a0a"/>
<path d="M930.3 2393.0L936.8 2393.0L933.5 2387.0Z" fill="#0a0a0a"/>
<line x1="903.4" y1="2475.5" x2="903.4" y2="2460.5" stroke="#111" stroke-width="2.5"/>
<text x="902.9" y="2552.0" font-size="55" text-anchor="middle">心室</text>
<rect x="985.7" y="2406.3" width="27.0" height="69.2" fill="#59aaba" stroke="#3cbd96" stroke-width="3"/>
<line x1="999.2" y1="2404.8" x2="999.2" y2="2401.6" stroke="#3cbd96" stroke-width="2.5"/>
<line x1="992.2" y1="2401.6" x2="1006.2" y2="2401.6" stroke="#3cbd96" stroke-width="2.5"/>
<circle cx="988.7" cy="2401.9" r="2.8" fill="#0a0a0a"/>
<circle cx="994.4" cy="2408.5" r="2.8" fill="#0a0a0a"/>
<circle cx="1001.3" cy="2405.6" r="2.8" fill="#0a0a0a"/>
<circle cx="1007.8" cy="2398.6" r="2.8" fill="#0a0a0a"/>
<circle cx="989.5" cy="2408.5" r="2.8" fill="#0a0a0a"/>
<circle cx="995.1" cy="2405.8" r="2.8" fill="#0a0a0a"/>
<circle cx="1002.1" cy="2408.9" r="2.8" fill="#0a0a0a"/>
<circle cx="1010.2" cy="2397.0" r="2.8" fill="#0a0a0a"/>
<rect x="1031.7" y="2406.8" width="27.0" height="68.7" fill="#dc5a5f" stroke="#e0487c" stroke-width="3"/>
<line x1="1045.2" y1="2405.3" x2="1045.2" y2="2402.1" stroke="#e0487c" stroke-width="2.5"/>
<line x1="1038.2" y1="2402.1" x2="1052.2" y2="2402.1" stroke="#e0487c" stroke-width="2.5"/>
<path d="M1031.8 2399.6L1038.3 2399.6L1035.1 2393.6Z" fill="#0a0a0a"/>
<path d="M1037.4 2412.7L1043.9 2412.7L1040.6 2406.7Z" fill="#0a0a0a"/>
<path d="M1044.8 2410.4L1051.3 2410.4L1048.1 2404.4Z" fill="#0a0a0a"/>
<path d="M1052.9 2411.8L1059.4 2411.8L1056.2 2405.8Z" fill="#0a0a0a"/>
<path d="M1030.5 2401.1L1037.0 2401.1L1033.8 2395.1Z" fill="#0a0a0a"/>
<path d="M1038.7 2412.1L1045.2 2412.1L1042.0 2406.1Z" fill="#0a0a0a"/>
<path d="M1045.4 2413.7L1051.9 2413.7L1048.7 2407.7Z" fill="#0a0a0a"/>
<path d="M1052.0 2400.7L1058.5 2400.7L1055.3 2394.7Z" fill="#0a0a0a"/>
<line x1="1024.2" y1="2475.5" x2="1024.2" y2="2460.5" stroke="#111" stroke-width="2.5"/>
<text x="1023.7" y="2552.0" font-size="55" text-anchor="middle">左心</text>
<text x="1023.7" y="2620.0" font-size="55" text-anchor="middle">室</text>
<rect x="1106.5" y="2449.5" width="27.0" height="26.0" fill="#59aaba" stroke="#3cbd96" stroke-width="3"/>
<line x1="1120.0" y1="2448.0" x2="1120.0" y2="2444.8" stroke="#3cbd96" stroke-width="2.5"/>
<line x1="1113.0" y1="2444.8" x2="1127.0" y2="2444.8" stroke="#3cbd96" stroke-width="2.5"/>
<circle cx="1111.1" cy="2436.4" r="2.8" fill="#0a0a0a"/>
<circle cx="1116.0" cy="2448.8" r="2.8" fill="#0a0a0a"/>
<circle cx="1122.3" cy="2443.2" r="2.8" fill="#0a0a0a"/>
<circle cx="1130.1" cy="2443.1" r="2.8" fill="#0a0a0a"/>
<circle cx="1109.5" cy="2450.7" r="2.8" fill="#0a0a0a"/>
<circle cx="1117.6" cy="2440.3" r="2.8" fill="#0a0a0a"/>
<circle cx="1124.4" cy="2442.8" r="2.8" fill="#0a0a0a"/>
<circle cx="1131.0" cy="2443.7" r="2.8" fill="#0a0a0a"/>
<rect x="1152.5" y="2449.5" width="27.0" height="26.0" fill="#dc5a5f" stroke="#e0487c" stroke-width="3"/>
<line x1="1166.0" y1="2448.0" x2="1166.0" y2="2444.8" stroke="#e0487c" stroke-width="2.5"/>
<line x1="1159.0" y1="2444.8" x2="1173.0" y2="2444.8" stroke="#e0487c" stroke-width="2.5"/>
<path d="M1151.9 2441.8L1158.4 2441.8L1155.2 2435.8Z" fill="#0a0a0a"/>
<path d="M1159.0 2456.4L1165.5 2456.4L1162.2 2450.4Z" fill="#0a0a0a"/>
<path d="M1164.7 2452.9L1171.2 2452.9L1167.9 2446.9Z" fill="#0a0a0a"/>
<path d="M1172.0 2447.3L1178.5 2447.3L1175.3 2441.3Z" fill="#0a0a0a"/>
<path d="M1154.1 2450.7L1160.6 2450.7L1157.4 2444.7Z" fill="#0a0a0a"/>
<path d="M1160.7 2443.3L1167.2 2443.3L1164.0 2437.3Z" fill="#0a0a0a"/>
<path d="M1167.4 2451.8L1173.9 2451.8L1170.7 2445.8Z" fill="#0a0a0a"/>
<path d="M1171.9 2453.7L1178.4 2453.7L1175.2 2447.7Z" fill="#0a0a0a"/>
<line x1="1145.0" y1="2475.5" x2="1145.0" y2="2460.5" stroke="#111" stroke-width="2.5"/>
<text x="1144.5" y="2552.0" font-size="55" text-anchor="middle">主动</text>
<text x="1144.5" y="2620.0" font-size="55" text-anchor="middle">脉×10</text>
<line x1="364.0" y1="1909.3" x2="364.0" y2="2171.0" stroke="#111" stroke-width="3"/>
<line x1="364.0" y1="2213.0" x2="364.0" y2="2477.0" stroke="#111" stroke-width="3"/>
<line x1="362.5" y1="2475.5" x2="1199.5" y2="2475.5" stroke="#111" stroke-width="3"/>
<line x1="350.7" y1="2159.0" x2="378.8" y2="2188.4" stroke="#111" stroke-width="3"/>
<line x1="350.7" y1="2197.2" x2="378.8" y2="2226.5" stroke="#111" stroke-width="3"/>
<line x1="364.0" y1="1910.7" x2="381.0" y2="1910.7" stroke="#111" stroke-width="3"/>
<text x="339.5" y="1929.2" font-size="55" text-anchor="end">45</text>
<line x1="364.0" y1="1997.8" x2="381.0" y2="1997.8" stroke="#111" stroke-width="3"/>
<text x="339.5" y="2016.3" font-size="55" text-anchor="end">40</text>
<line x1="364.0" y1="2084.9" x2="381.0" y2="2084.9" stroke="#111" stroke-width="3"/>
<text x="339.5" y="2103.4" font-size="55" text-anchor="end">35</text>
<text x="339.5" y="2189.0" font-size="55" text-anchor="end">30</text>
<text x="339.5" y="2234.5" font-size="55" text-anchor="end">10</text>
<line x1="364.0" y1="2265.9" x2="381.0" y2="2265.9" stroke="#111" stroke-width="3"/>
<text x="339.5" y="2284.4" font-size="55" text-anchor="end">8</text>
<line x1="364.0" y1="2318.3" x2="381.0" y2="2318.3" stroke="#111" stroke-width="3"/>
<text x="339.5" y="2336.8" font-size="55" text-anchor="end">6</text>
<line x1="364.0" y1="2370.7" x2="381.0" y2="2370.7" stroke="#111" stroke-width="3"/>
<text x="339.5" y="2389.2" font-size="55" text-anchor="end">4</text>
<line x1="364.0" y1="2423.1" x2="381.0" y2="2423.1" stroke="#111" stroke-width="3"/>
<text x="339.5" y="2441.6" font-size="55" text-anchor="end">2</text>
<text x="339.5" y="2494.0" font-size="55" text-anchor="end">0</text>
<text x="201.0" y="1894.0" font-size="53" text-anchor="start">G</text>
<text x="249.5" y="2191.5" font-size="55" text-anchor="middle" transform="rotate(-90 249.5 2191.5)">器官重量/体重<tspan dx="-9">（</tspan><tspan dx="11">‰</tspan><tspan dx="15">）</tspan></text>
<rect x="774.0" y="1953.6" width="58.0" height="28.0" fill="#59aaba" stroke="#3cbd96" stroke-width="2"/>
<rect x="774.0" y="2020.6" width="58.0" height="27.0" fill="#dc5a5f" stroke="#e0487c" stroke-width="2"/>
<text x="851.0" y="1990.0" font-size="55" text-anchor="start">对照组</text>
<text x="851.0" y="2062.0" font-size="55" text-anchor="start">NMN 给药组</text>
<text x="290.0" y="2847.0" font-size="53" text-anchor="start">K</text>
<text x="666.7" y="2853.0" font-size="55" text-anchor="middle">脑血管-EVG</text>
<text x="1326.5" y="2853.0" font-size="55" text-anchor="middle">心脏-Masson</text>
<text x="1949.6" y="2853.0" font-size="55" text-anchor="middle">主动脉-HE</text>
<text x="2581.0" y="2853.0" font-size="55" text-anchor="middle">肾脏-HE</text>
<text x="342.0" y="3143.0" font-size="55" text-anchor="middle" transform="rotate(-90 342.0 3143.0)">对照组</text>
<text x="342.0" y="3618.0" font-size="55" text-anchor="middle" transform="rotate(-90 342.0 3618.0)">NMN 给药组</text>
<defs>
<filter id="fGrain" x="0" y="0" width="100%" height="100%"><feTurbulence type="fractalNoise" baseFrequency="0.09" numOctaves="2" seed="11"/><feColorMatrix type="matrix" values="0 0 0 0 0.5  0 0 0 0 0.27  0 0 0 0 0.36  2.4 0 0 0 -1.05"/><feComposite in2="SourceAlpha" operator="in"/></filter>
<filter id="fGrainL" x="0" y="0" width="100%" height="100%"><feTurbulence type="fractalNoise" baseFrequency="0.07" numOctaves="2" seed="5"/><feColorMatrix type="matrix" values="0 0 0 0 0.86  0 0 0 0 0.5  0 0 0 0 0.62  0 2.6 0 0 -1.25"/><feComposite in2="SourceAlpha" operator="in"/></filter>
<filter id="fBgN" x="0" y="0" width="100%" height="100%"><feTurbulence type="fractalNoise" baseFrequency="0.012" numOctaves="2" seed="2"/><feColorMatrix type="matrix" values="0 0 0 0 1  0 0 0 0 1  0 0 0 0 1  1.6 0 0 0 -0.62"/></filter>
<filter id="fBgD" x="0" y="0" width="100%" height="100%"><feTurbulence type="fractalNoise" baseFrequency="0.012" numOctaves="2" seed="9"/><feColorMatrix type="matrix" values="0 0 0 0 0.55  0 0 0 0 0.55  0 0 0 0 0.55  1.4 0 0 0 -0.6"/></filter>
<filter id="fRough" x="-5%" y="-5%" width="110%" height="110%"><feTurbulence type="fractalNoise" baseFrequency="0.06" numOctaves="2" seed="4" result="n"/><feDisplacementMap in="SourceGraphic" in2="n" scale="9" xChannelSelector="R" yChannelSelector="G"/></filter>
<filter id="fRough2" x="-5%" y="-5%" width="110%" height="110%"><feTurbulence type="fractalNoise" baseFrequency="0.025" numOctaves="2" seed="8" result="n"/><feDisplacementMap in="SourceGraphic" in2="n" scale="14" xChannelSelector="R" yChannelSelector="G"/></filter>
<filter id="fSoft" x="-5%" y="-5%" width="110%" height="110%"><feGaussianBlur stdDeviation="1.6"/></filter>
<radialGradient id="gEvg1" cx="0.45" cy="0.5" r="0.8"><stop offset="0" stop-color="#ececec"/><stop offset="0.6" stop-color="#e2e2e2"/><stop offset="1" stop-color="#d2d2d2"/></radialGradient>
<radialGradient id="gAo1" gradientUnits="userSpaceOnUse" cx="1935" cy="3105" r="390"><stop offset="0" stop-color="#fcfcfc"/><stop offset="0.5" stop-color="#f7f7f7"/><stop offset="0.68" stop-color="#e9e9e9"/><stop offset="0.85" stop-color="#dcdcdc"/><stop offset="1" stop-color="#cdcdcd"/></radialGradient>
</defs>
<clipPath id="cp1"><rect x="382.8" y="2885.7" width="593.7" height="430.5"/></clipPath>
<g clip-path="url(#cp1)">
<rect x="382.8" y="2885.7" width="594.0" height="431.0" fill="url(#gEvg1)"/>
<rect x="382.8" y="2885.7" width="594.0" height="431.0" fill="#fff" filter="url(#fBgN)" opacity="0.5"/>
<rect x="382.8" y="2885.7" width="594.0" height="431.0" fill="#999" filter="url(#fBgD)" opacity="0.45"/>
<g filter="url(#fRough)">
<path d="M506.8 3094.9C509.2 3088.7 514.1 3070.4 521.5 3058.2C528.8 3045.9 539.8 3032.5 550.8 3021.5C561.8 3010.5 572.8 3003.7 587.5 2992.1C602.2 2980.5 624.8 2960.0 638.9 2951.7C653.0 2943.5 660.3 2941.8 671.9 2942.6C683.5 2943.3 699.4 2952.0 708.6 2956.1C717.8 2960.2 717.8 2968.5 727.0 2967.2C736.1 2965.8 748.4 2954.2 763.7 2948.1C779.0 2942.0 800.4 2936.0 818.7 2930.5C837.1 2925.0 856.0 2919.8 873.8 2915.0C891.5 2910.3 911.7 2903.4 925.1 2902.2C938.6 2901.0 947.6 2902.5 954.5 2907.7C961.3 2912.9 963.8 2923.0 966.2 2933.4C968.7 2943.8 968.7 2964.0 969.2 2970.1" fill="none" stroke="#8d8a8d" stroke-width="2.8" stroke-linecap="round"/>
<path d="M708.6 2956.1C711.7 2960.9 726.4 2975.1 727.0 2984.8C727.6 2994.4 718.4 3006.2 712.3 3014.1C706.2 3022.1 693.9 3029.4 690.3 3032.5" fill="none" stroke="#8d8a8d" stroke-width="2.8" stroke-linecap="round"/>
<path d="M727.0 2984.8C736.1 2987.3 764.3 3000.2 782.0 3000.2C799.8 3000.2 822.3 2989.8 833.4 2984.8C844.5 2979.8 848.2 2976.7 848.8 2970.1C849.4 2963.5 842.1 2951.7 837.1 2945.1C832.0 2938.5 821.8 2932.9 818.7 2930.5" fill="none" stroke="#8d8a8d" stroke-width="2.8" stroke-linecap="round"/>
<path d="M833.4 2984.8C841.3 2984.2 867.0 2983.5 881.1 2981.1C895.2 2978.7 906.8 2972.5 917.8 2970.1C928.8 2967.6 938.6 2966.4 947.2 2966.4C955.7 2966.4 965.5 2969.5 969.2 2970.1" fill="none" stroke="#8d8a8d" stroke-width="2.8" stroke-linecap="round"/>
<path d="M884.8 2981.1C885.4 2985.4 888.7 3000.1 888.4 3006.8C888.1 3013.5 883.9 3019.0 882.9 3021.5" fill="none" stroke="#8d8a8d" stroke-width="2.8" stroke-linecap="round"/>
<path d="M506.8 3094.9C508.0 3102.2 509.8 3127.3 514.1 3138.9C518.4 3150.5 523.9 3157.2 532.5 3164.6C541.0 3171.9 560.0 3179.9 565.5 3182.9" fill="none" stroke="#8d8a8d" stroke-width="2.8" stroke-linecap="round"/>
<path d="M532.5 3094.9C533.1 3101.0 533.1 3120.6 536.1 3131.6C539.2 3142.6 548.4 3156.0 550.8 3160.9" fill="none" stroke="#8d8a8d" stroke-width="2.8" stroke-linecap="round"/>
<path d="M811.4 3199.4C817.5 3197.2 837.7 3187.4 848.1 3185.9C858.5 3184.3 867.0 3187.1 873.8 3190.3C880.5 3193.5 886.0 3202.5 888.4 3205.0" fill="none" stroke="#8d8a8d" stroke-width="2.8" stroke-linecap="round"/>
<path d="M638.9 3245.3C634.0 3247.8 616.9 3253.9 609.5 3260.0C602.2 3266.1 596.1 3274.1 594.9 3282.0C593.6 3290.0 597.3 3302.7 602.2 3307.7C607.1 3312.7 617.5 3315.2 624.2 3312.1C630.9 3309.1 638.9 3299.9 642.6 3289.4C646.2 3278.8 645.6 3255.7 646.2 3249.0" fill="none" stroke="#8d8a8d" stroke-width="2.8" stroke-linecap="round"/>
<path d="M745.3 3032.5C742.3 3030.6 732.5 3024.5 727.0 3021.5C721.5 3018.4 714.7 3015.4 712.3 3014.1" fill="none" stroke="#8d8a8d" stroke-width="2.8" stroke-linecap="round"/>
<path d="M943.5 3164.6C945.3 3162.8 949.9 3156.6 954.5 3153.6C959.1 3150.5 968.3 3147.5 971.0 3146.2" fill="none" stroke="#8d8a8d" stroke-width="2.8" stroke-linecap="round"/>
<path d="M382.0 3069.2C384.5 3066.1 392.4 3055.8 396.7 3050.8C401.0 3045.8 405.9 3041.0 407.7 3039.1" fill="none" stroke="#5e5c5e" stroke-width="6" stroke-linecap="round"/>
<path d="M385.7 3087.5C388.1 3086.3 397.9 3081.4 400.4 3080.2" fill="none" stroke="#5e5c5e" stroke-width="4" stroke-linecap="round"/>
<path d="M499.4 3212.3C501.3 3210.8 508.6 3204.6 510.5 3203.1" fill="none" stroke="#5e5c5e" stroke-width="4" stroke-linecap="round"/>
<path d="M660.9 3278.3C664.6 3279.0 679.3 3281.4 682.9 3282.0" fill="none" stroke="#5e5c5e" stroke-width="3.5" stroke-linecap="round"/>
<path d="M756.3 2949.9C765.5 2947.2 802.2 2936.1 811.4 2933.4" fill="none" stroke="#d58fa3" stroke-width="7" stroke-linecap="round"/>
<path d="M870.1 2922.4C871.9 2926.1 880.5 2937.1 881.1 2944.4C881.7 2951.7 875.0 2962.8 873.8 2966.4" fill="none" stroke="#d58fa3" stroke-width="12" stroke-linecap="round"/>
<path d="M543.5 3032.5C546.2 3031.6 557.2 3027.9 560.0 3027.0" fill="none" stroke="#d58fa3" stroke-width="8" stroke-linecap="round"/>
<path d="M514.1 3113.2C515.4 3113.8 520.2 3116.3 521.5 3116.9" fill="none" stroke="#d58fa3" stroke-width="9" stroke-linecap="round"/>
<path d="M516.0 3142.6C516.9 3143.2 520.6 3145.6 521.5 3146.2" fill="none" stroke="#d58fa3" stroke-width="8" stroke-linecap="round"/>
<path d="M738.0 2981.1C739.2 2981.7 744.1 2984.2 745.3 2984.8" fill="none" stroke="#d58fa3" stroke-width="8" stroke-linecap="round"/>
<path d="M961.8 2933.4C964.3 2934.3 974.1 2938.0 976.5 2938.9" fill="none" stroke="#d58fa3" stroke-width="10" stroke-linecap="round"/>
<circle cx="923.3" cy="2949.2" r="13" fill="#dba0b1" stroke="#8d8a8d" stroke-width="2.5"/>
</g>
<g transform="rotate(-6 696 3138)">
<ellipse cx="696" cy="3138" rx="136" ry="112" fill="#aa5570" filter="url(#fRough)"/>
<ellipse cx="696" cy="3138" rx="134" ry="110" fill="#000" filter="url(#fGrain)" opacity="0.55"/>
<ellipse cx="696" cy="3138" rx="134" ry="110" fill="#000" filter="url(#fGrainL)" opacity="0.6"/>
<ellipse cx="697" cy="3139" rx="86" ry="66" fill="#6d6066" filter="url(#fRough)"/>
<ellipse cx="697" cy="3139" rx="78" ry="59" fill="#e5e3e4" filter="url(#fRough)"/>
</g>
<rect x="861.0" y="3264.8" width="115.5" height="51.4" fill="#f7f7f7"/>
</g>
<text x="915.5" y="3296.5" font-size="34" text-anchor="middle">20 μm</text>
<line x1="898.7" y1="3310.5" x2="933.6" y2="3310.5" stroke="#111" stroke-width="3"/>
<clipPath id="cp2"><rect x="382.8" y="3351.3" width="593.7" height="430.1"/></clipPath>
<g clip-path="url(#cp2)">
<rect x="382.8" y="3351.3" width="594.0" height="431.0" fill="#cfcfcf"/>
<rect x="382.8" y="3351.3" width="594.0" height="431.0" fill="#fff" filter="url(#fBgN)" opacity="0.35"/>
<rect x="382.8" y="3351.3" width="594.0" height="431.0" fill="#999" filter="url(#fBgD)" opacity="0.4"/>
<g filter="url(#fRough)">
<path d="M382.0 3421.7C385.7 3418.1 393.0 3405.8 404.0 3399.7C415.0 3393.6 435.2 3389.9 448.1 3385.0C460.9 3380.2 469.5 3375.3 481.1 3370.4C492.7 3365.5 511.7 3358.1 517.8 3355.7" fill="none" stroke="#8d8a8d" stroke-width="2.8" stroke-linecap="round"/>
<path d="M448.1 3385.0C449.3 3388.1 454.2 3400.3 455.4 3403.4" fill="none" stroke="#8d8a8d" stroke-width="2.8" stroke-linecap="round"/>
<path d="M565.5 3506.1C570.4 3500.0 585.1 3481.7 594.9 3469.4C604.6 3457.2 613.2 3442.5 624.2 3432.8C635.2 3423.0 649.9 3415.6 660.9 3410.7C671.9 3405.8 684.5 3412.0 690.3 3403.4C696.1 3394.8 694.9 3366.7 695.8 3359.4" fill="none" stroke="#8d8a8d" stroke-width="2.8" stroke-linecap="round"/>
<path d="M690.3 3403.4C696.4 3402.2 716.0 3396.1 727.0 3396.1C738.0 3396.1 748.4 3397.9 756.3 3403.4C764.3 3408.9 771.6 3424.8 774.7 3429.1" fill="none" stroke="#8d8a8d" stroke-width="2.8" stroke-linecap="round"/>
<path d="M705.0 3352.0C704.3 3360.6 703.7 3389.3 701.3 3403.4C698.8 3417.5 692.1 3430.9 690.3 3436.4" fill="none" stroke="#8d8a8d" stroke-width="2.8" stroke-linecap="round"/>
<path d="M796.7 3484.1C801.0 3490.2 813.8 3507.4 822.4 3520.8C830.9 3534.3 842.6 3551.4 848.1 3564.9C853.6 3578.3 857.9 3589.9 855.4 3601.6C853.0 3613.2 845.0 3626.0 833.4 3634.6C821.8 3643.1 793.6 3649.9 785.7 3652.9" fill="none" stroke="#8d8a8d" stroke-width="2.8" stroke-linecap="round"/>
<path d="M855.4 3513.5C858.5 3519.6 868.3 3538.0 873.8 3550.2C879.3 3562.4 886.0 3580.8 888.4 3586.9" fill="none" stroke="#8d8a8d" stroke-width="2.8" stroke-linecap="round"/>
<path d="M785.7 3652.9C777.1 3660.3 746.5 3684.1 734.3 3697.0C722.1 3709.8 724.5 3721.4 712.3 3730.0C700.1 3738.6 679.3 3742.2 660.9 3748.3C642.6 3754.5 618.1 3762.4 602.2 3766.7C586.3 3771.0 571.6 3772.8 565.5 3774.0" fill="none" stroke="#8d8a8d" stroke-width="2.8" stroke-linecap="round"/>
<path d="M462.8 3667.6C467.0 3673.7 479.9 3694.5 488.4 3704.3C497.0 3714.1 503.7 3718.4 514.1 3726.3C524.5 3734.3 542.3 3744.1 550.8 3752.0C559.4 3760.0 563.1 3770.4 565.5 3774.0" fill="none" stroke="#8d8a8d" stroke-width="2.8" stroke-linecap="round"/>
<path d="M488.4 3704.3C486.0 3707.7 476.2 3721.1 473.8 3724.5" fill="none" stroke="#8d8a8d" stroke-width="2.8" stroke-linecap="round"/>
<path d="M785.7 3652.9C794.3 3652.3 826.7 3649.6 837.1 3649.3C847.5 3649.0 846.2 3650.8 848.1 3651.1" fill="none" stroke="#8d8a8d" stroke-width="2.8" stroke-linecap="round"/>
<path d="M727.0 3352.0C733.1 3352.9 748.4 3356.9 763.7 3357.5C779.0 3358.1 800.4 3356.6 818.7 3355.7C837.1 3354.8 864.6 3352.6 873.8 3352.0" fill="none" stroke="#8d8a8d" stroke-width="2.8" stroke-linecap="round"/>
<path d="M881.1 3377.7C886.0 3375.9 898.2 3370.4 910.5 3366.7C922.7 3363.0 947.2 3357.5 954.5 3355.7" fill="none" stroke="#8d8a8d" stroke-width="2.8" stroke-linecap="round"/>
<path d="M888.4 3697.0C890.9 3690.9 895.8 3668.2 903.1 3660.3C910.5 3652.3 921.5 3650.5 932.5 3649.3C943.5 3648.0 963.1 3652.3 969.2 3652.9" fill="none" stroke="#8d8a8d" stroke-width="2.8" stroke-linecap="round"/>
<path d="M782.0 3779.5C788.1 3778.0 807.7 3775.6 818.7 3770.4C829.7 3765.2 843.2 3752.0 848.1 3748.3" fill="none" stroke="#8d8a8d" stroke-width="2.8" stroke-linecap="round"/>
<path d="M382.0 3506.1C385.7 3509.8 400.4 3524.5 404.0 3528.2" fill="none" stroke="#8d8a8d" stroke-width="2.8" stroke-linecap="round"/>
<path d="M415.0 3605.2C416.0 3606.5 419.6 3611.3 420.6 3612.6" fill="none" stroke="#5e5c5e" stroke-width="6" stroke-linecap="round"/>
<path d="M820.6 3454.8C821.5 3456.0 825.1 3460.9 826.1 3462.1" fill="none" stroke="#5e5c5e" stroke-width="6" stroke-linecap="round"/>
<path d="M888.4 3586.9C888.7 3587.8 890.0 3591.5 890.3 3592.4" fill="none" stroke="#5e5c5e" stroke-width="7" stroke-linecap="round"/>
<path d="M943.5 3451.1C945.9 3452.3 957.6 3454.2 958.2 3458.4C958.8 3462.7 949.0 3473.7 947.2 3476.8" fill="none" stroke="#5e5c5e" stroke-width="5" stroke-linecap="round"/>
<path d="M961.8 3513.5C962.1 3514.1 963.4 3516.5 963.7 3517.2" fill="none" stroke="#5e5c5e" stroke-width="5" stroke-linecap="round"/>
<path d="M481.1 3755.7C485.4 3757.5 502.5 3764.9 506.8 3766.7" fill="none" stroke="#5e5c5e" stroke-width="4" stroke-linecap="round"/>
<path d="M444.4 3634.6C445.3 3636.4 449.0 3643.8 449.9 3645.6" fill="none" stroke="#5e5c5e" stroke-width="3.5" stroke-linecap="round"/>
</g>
<path d="M818.7 3792.4C824.2 3785.7 838.9 3766.1 851.7 3752.0C864.6 3738.0 879.9 3718.1 895.8 3708.0C911.7 3697.9 932.5 3693.9 947.2 3691.5C961.8 3689.0 977.7 3693.0 983.9 3693.3" fill="none" stroke="#c47a90" stroke-width="40" filter="url(#fRough)"/>
<ellipse cx="783.9" cy="3366.0" rx="18" ry="8" fill="#c47a90" filter="url(#fRough)"/>
<g transform="rotate(-45 657 3589)">
<ellipse cx="657" cy="3587" rx="160" ry="128" fill="#b85a77" filter="url(#fRough)"/>
<ellipse cx="657" cy="3587" rx="158" ry="126" fill="#000" filter="url(#fGrain)" opacity="0.5"/>
<ellipse cx="657" cy="3587" rx="158" ry="126" fill="#000" filter="url(#fGrainL)" opacity="0.65"/>
<ellipse cx="658" cy="3593" rx="111" ry="84" fill="#6f6167" filter="url(#fRough)"/>
<ellipse cx="658" cy="3593" rx="106" ry="79" fill="#d2d1d2" filter="url(#fRough)"/>
</g>
<ellipse cx="680" cy="3560" rx="22" ry="14" fill="#e2e2e2"/>
<rect x="861.0" y="3729.3" width="115.5" height="52.1" fill="#f7f7f7"/>
</g>
<text x="915.5" y="3763.5" font-size="34" text-anchor="middle">20 μm</text>
<line x1="898.7" y1="3777.5" x2="933.6" y2="3777.5" stroke="#111" stroke-width="3"/>
<clipPath id="cp3"><rect x="1652.0" y="2891.2" width="594.5" height="428.2"/></clipPath>
<g clip-path="url(#cp3)">
<rect x="1652.0" y="2891.2" width="595.0" height="429.0" fill="url(#gAo1)"/>
<path d="M1773.1 3080.2C1774.3 3063.7 1776.2 3034.9 1784.1 3017.8C1792.1 3000.7 1804.9 2986.3 1820.8 2977.4C1836.7 2968.6 1860.0 2965.2 1879.5 2964.6C1899.1 2964.0 1921.1 2968.6 1938.3 2973.8C1955.4 2979.0 1970.1 2986.0 1982.3 2995.8C1994.5 3005.6 2004.3 3020.9 2011.7 3032.5C2019.0 3044.1 2020.2 3052.7 2026.3 3065.5C2032.4 3078.3 2044.1 3094.9 2048.3 3109.5C2052.6 3124.2 2053.9 3138.3 2052.0 3153.6C2050.2 3168.9 2045.3 3187.2 2037.3 3201.3C2029.4 3215.4 2018.4 3228.2 2004.3 3238.0C1990.2 3247.8 1968.8 3255.7 1952.9 3260.0C1937.0 3264.3 1923.6 3266.1 1908.9 3263.7C1894.2 3261.2 1878.9 3253.9 1864.9 3245.3C1850.8 3236.8 1836.1 3225.7 1824.5 3212.3C1812.9 3198.8 1803.1 3180.5 1795.1 3164.6C1787.2 3148.7 1780.5 3130.9 1776.8 3116.9C1773.1 3102.8 1771.9 3096.7 1773.1 3080.2Z" fill="#fcfcfc" stroke="#b9a5ab" stroke-width="31" opacity="0.55" filter="url(#fSoft)"/>
<path d="M1773.1 3080.2C1774.3 3063.7 1776.2 3034.9 1784.1 3017.8C1792.1 3000.7 1804.9 2986.3 1820.8 2977.4C1836.7 2968.6 1860.0 2965.2 1879.5 2964.6C1899.1 2964.0 1921.1 2968.6 1938.3 2973.8C1955.4 2979.0 1970.1 2986.0 1982.3 2995.8C1994.5 3005.6 2004.3 3020.9 2011.7 3032.5C2019.0 3044.1 2020.2 3052.7 2026.3 3065.5C2032.4 3078.3 2044.1 3094.9 2048.3 3109.5C2052.6 3124.2 2053.9 3138.3 2052.0 3153.6C2050.2 3168.9 2045.3 3187.2 2037.3 3201.3C2029.4 3215.4 2018.4 3228.2 2004.3 3238.0C1990.2 3247.8 1968.8 3255.7 1952.9 3260.0C1937.0 3264.3 1923.6 3266.1 1908.9 3263.7C1894.2 3261.2 1878.9 3253.9 1864.9 3245.3C1850.8 3236.8 1836.1 3225.7 1824.5 3212.3C1812.9 3198.8 1803.1 3180.5 1795.1 3164.6C1787.2 3148.7 1780.5 3130.9 1776.8 3116.9C1773.1 3102.8 1771.9 3096.7 1773.1 3080.2Z" fill="#fcfcfc" stroke="#cd8aa0" stroke-width="24" filter="url(#fRough2)"/>
<g fill="#6b6b6b">
<circle cx="1905.2" cy="2924.2" r="3"/>
<circle cx="1861.2" cy="2933.4" r="2.5"/>
<circle cx="1886.9" cy="2935.2" r="2"/>
<circle cx="1835.5" cy="2951.7" r="2.5"/>
<circle cx="1930.9" cy="2944.4" r="2.5"/>
<circle cx="1967.6" cy="2946.2" r="2"/>
<circle cx="1828.2" cy="2964.6" r="2"/>
<circle cx="2118.1" cy="3072.1" r="3.2"/>
<circle cx="2219.7" cy="3020.4" r="2.5"/>
<circle cx="2132.0" cy="3202.0" r="2.2"/>
<circle cx="1690.6" cy="3195.8" r="2.6"/>
<circle cx="1707.1" cy="3227.0" r="2.4"/>
<circle cx="2052.0" cy="3050.8" r="2.2"/>
<circle cx="2202.5" cy="2954.7" r="1.8"/>
<circle cx="1806.1" cy="3212.3" r="2"/>
<circle cx="1795.1" cy="3205.0" r="2"/>
<circle cx="1776.8" cy="3153.6" r="1.8"/>
<circle cx="1762.1" cy="3080.2" r="1.8"/>
<circle cx="1835.5" cy="3230.6" r="1.8"/>
</g>
<path d="M1828.2 2959.1C1833.1 2955.4 1847.7 2941.7 1857.5 2937.1C1867.3 2932.5 1876.5 2931.3 1886.9 2931.6C1897.3 2931.9 1910.7 2937.4 1919.9 2938.9C1929.1 2940.4 1938.3 2940.4 1941.9 2940.7" fill="none" stroke="#8b8b8b" stroke-width="1.8" stroke-linecap="round" filter="url(#fRough)"/>
<rect x="2123.6" y="3272.0" width="122.9" height="47.4" fill="#fafafa"/>
</g>
<text x="2184.5" y="3301.0" font-size="34" text-anchor="middle">200 μm</text>
<line x1="2160.3" y1="3315.3" x2="2209.0" y2="3315.3" stroke="#111" stroke-width="3"/>
<clipPath id="cp4"><rect x="1652.0" y="3351.0" width="597.0" height="433.0"/></clipPath>
<g clip-path="url(#cp4)">
<path d="M2193.3 3352.3H2248.3V3391.6H2231.8V3375.0H2217.2V3360.4H2193.3Z" fill="#e6e6e6"/>
<path d="M1745.6 3525.5C1745.9 3508.4 1747.7 3494.3 1752.9 3481.5C1758.1 3468.6 1763.0 3457.9 1776.8 3448.4C1790.6 3439.0 1815.9 3429.5 1835.5 3424.6C1855.1 3419.7 1877.1 3420.9 1894.2 3419.1C1911.3 3417.2 1923.6 3411.7 1938.3 3413.6C1952.9 3415.4 1970.1 3423.1 1982.3 3430.1C1994.5 3437.1 2003.1 3446.6 2011.7 3455.8C2020.2 3465.0 2026.9 3473.5 2033.7 3485.1C2040.4 3496.8 2046.2 3511.4 2052.0 3525.5C2057.8 3539.6 2065.5 3556.1 2068.5 3569.5C2071.6 3583.0 2072.2 3592.8 2070.4 3606.2C2068.5 3619.7 2064.3 3638.0 2057.5 3650.3C2050.8 3662.5 2040.1 3671.4 2030.0 3679.6C2019.9 3687.9 2012.3 3694.8 1997.0 3699.8C1981.7 3704.8 1956.6 3709.1 1938.3 3709.7C1919.9 3710.3 1900.9 3707.3 1886.9 3703.5C1872.8 3699.7 1867.3 3695.2 1853.9 3687.0C1840.4 3678.7 1820.2 3664.3 1806.1 3653.9C1792.1 3643.5 1778.6 3636.2 1769.4 3624.6C1760.3 3613.0 1755.1 3600.7 1751.1 3584.2C1747.1 3567.7 1745.3 3542.6 1745.6 3525.5Z" fill="none" stroke="#c9a9b4" stroke-width="32" opacity="0.5" filter="url(#fSoft)"/>
<path d="M1745.6 3525.5C1745.9 3508.4 1747.7 3494.3 1752.9 3481.5C1758.1 3468.6 1763.0 3457.9 1776.8 3448.4C1790.6 3439.0 1815.9 3429.5 1835.5 3424.6C1855.1 3419.7 1877.1 3420.9 1894.2 3419.1C1911.3 3417.2 1923.6 3411.7 1938.3 3413.6C1952.9 3415.4 1970.1 3423.1 1982.3 3430.1C1994.5 3437.1 2003.1 3446.6 2011.7 3455.8C2020.2 3465.0 2026.9 3473.5 2033.7 3485.1C2040.4 3496.8 2046.2 3511.4 2052.0 3525.5C2057.8 3539.6 2065.5 3556.1 2068.5 3569.5C2071.6 3583.0 2072.2 3592.8 2070.4 3606.2C2068.5 3619.7 2064.3 3638.0 2057.5 3650.3C2050.8 3662.5 2040.1 3671.4 2030.0 3679.6C2019.9 3687.9 2012.3 3694.8 1997.0 3699.8C1981.7 3704.8 1956.6 3709.1 1938.3 3709.7C1919.9 3710.3 1900.9 3707.3 1886.9 3703.5C1872.8 3699.7 1867.3 3695.2 1853.9 3687.0C1840.4 3678.7 1820.2 3664.3 1806.1 3653.9C1792.1 3643.5 1778.6 3636.2 1769.4 3624.6C1760.3 3613.0 1755.1 3600.7 1751.1 3584.2C1747.1 3567.7 1745.3 3542.6 1745.6 3525.5Z" fill="none" stroke="#e392ad" stroke-width="27" filter="url(#fRough2)"/>
<g fill="#444">
<circle cx="1819.7" cy="3370.6" r="2.6"/>
<circle cx="2052.8" cy="3403.7" r="2.2"/>
<circle cx="2158.4" cy="3397.1" r="1.6"/>
<circle cx="2163.9" cy="3434.9" r="2"/>
<circle cx="2218.3" cy="3528.1" r="3"/>
<circle cx="2187.8" cy="3625.3" r="1.8"/>
<circle cx="2243.6" cy="3665.7" r="2"/>
<circle cx="1955.9" cy="3732.8" r="1.6"/>
<circle cx="1957.7" cy="3571.4" r="1.4"/>
<circle cx="1661.2" cy="3771.4" r="1.5"/>
<circle cx="2107.1" cy="3364.8" r="1.4"/>
</g>
</g>
<text x="2184.5" y="3770.0" font-size="34" text-anchor="middle">200 μm</text>
<line x1="2160.3" y1="3782.7" x2="2209.0" y2="3782.7" stroke="#111" stroke-width="3"/>
<defs>
<filter id="fStreakL" x="0" y="0" width="100%" height="100%"><feTurbulence type="fractalNoise" baseFrequency="0.035 0.17" numOctaves="3" seed="21"/><feColorMatrix type="matrix" values="0 0 0 0 0.92  0 0 0 0 0.6  0 0 0 0 0.7  4 0 0 0 -2.45"/></filter>
<filter id="fStreakD" x="0" y="0" width="100%" height="100%"><feTurbulence type="fractalNoise" baseFrequency="0.04 0.19" numOctaves="3" seed="33"/><feColorMatrix type="matrix" values="0 0 0 0 0.45  0 0 0 0 0.07  0 0 0 0 0.2  0 4 0 0 -1.85"/></filter>
<filter id="fStreakR" x="0" y="0" width="100%" height="100%"><feTurbulence type="fractalNoise" baseFrequency="0.012 0.05" numOctaves="2" seed="41"/><feColorMatrix type="matrix" values="0 0 0 0 0.86  0 0 0 0 0.16  0 0 0 0 0.14  0 0 4 0 -2.15"/></filter>
<filter id="fBlobL" x="0" y="0" width="100%" height="100%"><feTurbulence type="fractalNoise" baseFrequency="0.12 0.17" numOctaves="2" seed="13"/><feColorMatrix type="matrix" values="0 0 0 0 0.9  0 0 0 0 0.72  0 0 0 0 0.78  3.4 0 0 0 -1.68"/></filter>
<filter id="fBlobD" x="0" y="0" width="100%" height="100%"><feTurbulence type="fractalNoise" baseFrequency="0.13 0.18" numOctaves="2" seed="17"/><feColorMatrix type="matrix" values="0 0 0 0 0.5  0 0 0 0 0.3  0 0 0 0 0.38  0 3 0 0 -1.5"/></filter>
<filter id="fBlobG" x="0" y="0" width="100%" height="100%"><feTurbulence type="fractalNoise" baseFrequency="0.12 0.16" numOctaves="2" seed="19"/><feColorMatrix type="matrix" values="0 0 0 0 0.82  0 0 0 0 0.82  0 0 0 0 0.82  3.4 0 0 0 -1.68"/></filter>
<filter id="fBlobK" x="0" y="0" width="100%" height="100%"><feTurbulence type="fractalNoise" baseFrequency="0.13 0.18" numOctaves="2" seed="23"/><feColorMatrix type="matrix" values="0 0 0 0 0.3  0 0 0 0 0.3  0 0 0 0 0.3  0 3 0 0 -1.5"/></filter>
<filter id="fPurp" x="-10%" y="-10%" width="120%" height="120%"><feTurbulence type="fractalNoise" baseFrequency="0.035" numOctaves="2" seed="6" result="n"/><feDisplacementMap in="SourceGraphic" in2="n" scale="26" xChannelSelector="R" yChannelSelector="G"/></filter>
<filter id="fPurpN" x="0" y="0" width="100%" height="100%"><feTurbulence type="fractalNoise" baseFrequency="0.12" numOctaves="2" seed="29"/><feColorMatrix type="matrix" values="0 0 0 0 0.3  0 0 0 0 0.25  0 0 0 0 0.5  4 0 0 0 -1.9"/><feComposite in2="SourceAlpha" operator="in"/></filter>
</defs>
<clipPath id="cp5"><rect x="1025.0" y="2884.0" width="585.0" height="434.7"/></clipPath>
<g clip-path="url(#cp5)">
<rect x="1025.0" y="2884.0" width="585.0" height="434.7" fill="#9a2444"/>
<path d="M1072 3040h16v16h-16zM1088 2960h16v16h-16zM1104 2976h16v16h-16zM1136 3232h16v16h-16zM1152 2928h16v16h-16zM1168 2976h16v16h-16zM1184 2960h16v16h-16zM1184 2976h16v16h-16zM1264 2896h16v16h-16zM1264 3296h16v16h-16zM1280 2992h16v16h-16zM1312 3120h16v16h-16zM1328 2944h16v16h-16zM1344 3104h16v16h-16zM1360 2896h16v16h-16zM1376 2992h16v16h-16zM1456 2960h16v16h-16zM1456 3184h16v16h-16zM1472 3088h16v16h-16zM1472 3184h16v16h-16zM1488 2944h16v16h-16zM1520 2896h16v16h-16zM1536 2896h16v16h-16zM1568 3120h16v16h-16zM1584 3088h16v16h-16zM1584 3104h16v16h-16z" fill="#98284a"/>
<path d="M1040 2928h16v16h-16zM1056 3232h16v16h-16zM1088 2896h16v16h-16zM1088 3008h16v16h-16zM1120 3184h16v16h-16zM1152 2960h16v16h-16zM1216 2928h16v16h-16zM1232 3248h16v16h-16zM1312 3040h16v16h-16zM1312 3136h16v16h-16zM1312 3296h16v16h-16zM1344 3296h16v16h-16zM1360 2944h16v16h-16zM1376 2896h16v16h-16zM1376 3056h16v16h-16zM1376 3120h16v16h-16zM1440 2912h16v16h-16zM1456 3040h16v16h-16zM1488 2960h16v16h-16zM1504 3168h16v16h-16zM1520 3024h16v16h-16zM1536 3136h16v16h-16zM1552 3040h16v16h-16z" fill="#a02648"/>
<path d="M1040 3136h16v16h-16zM1056 3056h16v16h-16zM1072 3024h16v16h-16zM1072 3104h16v16h-16zM1088 2992h16v16h-16zM1088 3200h16v16h-16zM1184 3056h16v16h-16zM1184 3248h16v16h-16zM1216 2896h16v16h-16zM1216 2992h16v16h-16zM1216 3104h16v16h-16zM1264 2912h16v16h-16zM1280 3024h16v16h-16zM1280 3040h16v16h-16zM1296 3040h16v16h-16zM1360 3056h16v16h-16zM1376 3104h16v16h-16zM1424 2992h16v16h-16zM1440 3136h16v16h-16zM1504 2992h16v16h-16zM1520 2992h16v16h-16z" fill="#cf3a30"/>
<path d="M1056 2960h16v16h-16zM1056 3008h16v16h-16zM1072 3056h16v16h-16zM1072 3248h16v16h-16zM1104 2992h16v16h-16zM1168 2912h16v16h-16zM1200 3152h16v16h-16zM1216 2960h16v16h-16zM1248 2896h16v16h-16zM1264 3008h16v16h-16zM1312 2896h16v16h-16zM1360 2928h16v16h-16zM1360 3104h16v16h-16zM1424 2912h16v16h-16zM1424 3056h16v16h-16zM1440 3024h16v16h-16zM1440 3072h16v16h-16zM1440 3152h16v16h-16zM1472 2944h16v16h-16zM1472 3008h16v16h-16zM1488 2976h16v16h-16zM1520 3056h16v16h-16zM1536 3056h16v16h-16zM1552 3024h16v16h-16zM1552 3104h16v16h-16zM1568 2944h16v16h-16zM1568 2992h16v16h-16z" fill="#b52b58"/>
<path d="M1040 2944h16v16h-16zM1088 3072h16v16h-16zM1088 3280h16v16h-16zM1136 3024h16v16h-16zM1152 2912h16v16h-16zM1168 2928h16v16h-16zM1184 2992h16v16h-16zM1216 3024h16v16h-16zM1264 2928h16v16h-16zM1264 3136h16v16h-16zM1312 2992h16v16h-16zM1312 3008h16v16h-16zM1312 3152h16v16h-16zM1344 3136h16v16h-16zM1360 2976h16v16h-16zM1376 3296h16v16h-16zM1408 3120h16v16h-16zM1440 2960h16v16h-16zM1488 3040h16v16h-16zM1504 2944h16v16h-16zM1536 3088h16v16h-16zM1568 3040h16v16h-16zM1584 2944h16v16h-16zM1584 3152h16v16h-16z" fill="#b9262f"/>
<path d="M1104 3200h16v16h-16zM1136 2912h16v16h-16zM1152 2896h16v16h-16zM1152 2976h16v16h-16zM1168 3040h16v16h-16zM1184 3008h16v16h-16zM1200 2928h16v16h-16zM1216 3216h16v16h-16zM1216 3248h16v16h-16zM1232 2960h16v16h-16zM1296 2944h16v16h-16zM1328 2912h16v16h-16zM1360 3008h16v16h-16zM1392 3056h16v16h-16zM1392 3232h16v16h-16zM1408 3008h16v16h-16zM1440 3264h16v16h-16zM1472 2928h16v16h-16zM1504 3040h16v16h-16zM1520 3088h16v16h-16zM1520 3264h16v16h-16zM1536 3040h16v16h-16zM1552 2928h16v16h-16zM1552 2992h16v16h-16zM1552 3072h16v16h-16zM1568 3072h16v16h-16zM1568 3088h16v16h-16zM1568 3104h16v16h-16zM1584 3136h16v16h-16z" fill="#c52a33"/>
<g transform="rotate(-12 1318 3101)" opacity="0.55">
<rect x="885.0" y="2744.0" width="865.0" height="714.7" fill="#000" filter="url(#fStreakR)"/>
</g>
<g opacity="0.6">
<path d="M1040 3232h16v16h-16zM1072 3072h16v16h-16zM1088 2976h16v16h-16zM1088 3008h16v16h-16zM1088 3264h16v16h-16zM1120 2912h16v16h-16zM1216 3248h16v16h-16zM1232 2928h16v16h-16zM1232 2976h16v16h-16zM1248 2944h16v16h-16zM1264 3024h16v16h-16zM1280 2944h16v16h-16zM1280 3040h16v16h-16zM1312 2976h16v16h-16zM1344 3024h16v16h-16zM1360 3104h16v16h-16zM1360 3184h16v16h-16zM1408 3040h16v16h-16zM1424 3008h16v16h-16zM1456 3104h16v16h-16zM1472 2992h16v16h-16zM1472 3120h16v16h-16zM1488 3040h16v16h-16zM1488 3104h16v16h-16z" fill="#c22636"/>
<path d="M1072 2912h16v16h-16zM1072 2928h16v16h-16zM1104 2896h16v16h-16zM1104 3040h16v16h-16zM1136 3024h16v16h-16zM1184 3056h16v16h-16zM1200 3056h16v16h-16zM1216 3040h16v16h-16zM1280 2976h16v16h-16zM1344 3088h16v16h-16zM1360 2944h16v16h-16zM1360 2960h16v16h-16zM1376 3184h16v16h-16zM1408 3024h16v16h-16zM1440 3088h16v16h-16zM1440 3136h16v16h-16zM1488 2992h16v16h-16zM1520 3152h16v16h-16zM1536 3056h16v16h-16z" fill="#d0302c"/>
<path d="M1040 3248h16v16h-16zM1072 2944h16v16h-16zM1072 3120h16v16h-16zM1184 3200h16v16h-16zM1312 2992h16v16h-16zM1344 2944h16v16h-16zM1360 2896h16v16h-16zM1392 2928h16v16h-16zM1392 3008h16v16h-16zM1408 2928h16v16h-16zM1472 2928h16v16h-16zM1488 3088h16v16h-16zM1520 3104h16v16h-16zM1536 2928h16v16h-16zM1536 3088h16v16h-16zM1568 2896h16v16h-16zM1584 3120h16v16h-16z" fill="#c8402a"/>
</g>
<path d="M1256.9 3080.2C1266.7 3066.7 1302.1 3066.7 1311.9 3072.8C1321.7 3079.0 1320.5 3103.4 1315.6 3116.9C1310.7 3130.3 1283.2 3142.6 1282.6 3153.6C1282.0 3164.6 1315.0 3173.1 1311.9 3182.9C1308.9 3192.7 1282.0 3205.6 1264.2 3212.3C1246.5 3219.0 1220.8 3220.1 1205.5 3223.3C1190.2 3226.5 1188.4 3228.8 1172.5 3231.4C1156.6 3233.9 1123.5 3239.4 1110.1 3238.7C1096.6 3238.0 1073.4 3235.0 1091.7 3227.0C1110.1 3218.9 1193.3 3202.5 1220.2 3190.3C1247.1 3178.0 1247.1 3171.9 1253.2 3153.6C1259.3 3135.2 1247.1 3093.6 1256.9 3080.2Z" fill="#e0b8c5" opacity="0.9" filter="url(#fPurp)"/>
<path d="M1403.7 3094.9C1404.9 3090.6 1428.1 3085.1 1440.4 3083.9C1452.6 3082.6 1471.6 3083.9 1477.1 3087.5C1482.6 3091.2 1480.7 3102.2 1473.4 3105.9C1466.1 3109.5 1444.6 3111.4 1433.0 3109.5C1421.4 3107.7 1402.4 3099.1 1403.7 3094.9Z" fill="#e0bac7" opacity="0.92" filter="url(#fPurp)"/>
<path d="M1495.4 3039.8C1495.4 3035.5 1531.5 3031.9 1550.5 3032.5C1569.4 3033.1 1599.4 3039.2 1609.2 3043.5C1619.0 3047.8 1619.0 3055.7 1609.2 3058.2C1599.4 3060.6 1569.4 3061.2 1550.5 3058.2C1531.5 3055.1 1495.4 3044.1 1495.4 3039.8Z" fill="#e0bac7" opacity="0.92" filter="url(#fPurp)"/>
<path d="M1568.8 3072.8C1574.9 3068.0 1602.4 3064.3 1609.2 3069.2C1615.9 3074.1 1615.3 3097.3 1609.2 3102.2C1603.1 3107.1 1579.2 3103.4 1572.5 3098.5C1565.7 3093.6 1562.7 3077.7 1568.8 3072.8Z" fill="#e0bac7" opacity="0.92" filter="url(#fPurp)"/>
<path d="M1367.0 2944.4C1370.0 2941.0 1382.3 2937.7 1389.0 2938.9C1395.7 2940.1 1407.3 2947.2 1407.3 2951.7C1407.3 2956.3 1395.1 2965.2 1389.0 2966.4C1382.9 2967.6 1374.3 2962.8 1370.6 2959.1C1367.0 2955.4 1363.9 2947.8 1367.0 2944.4Z" fill="#e0bac7" opacity="0.92" filter="url(#fPurp)"/>
<path d="M1025.7 2995.8C1036.1 2991.5 1072.2 2990.9 1088.1 2988.4C1104.0 2986.0 1111.3 2980.5 1121.1 2981.1C1130.9 2981.7 1152.3 2987.8 1146.8 2992.1C1141.3 2996.4 1108.3 3003.1 1088.1 3006.8C1067.9 3010.5 1036.1 3016.0 1025.7 3014.1C1015.3 3012.3 1015.3 3000.1 1025.7 2995.8Z" fill="#e0bac7" opacity="0.92" filter="url(#fPurp)"/>
<path d="M1396.3 2893.0C1399.4 2890.0 1414.1 2887.5 1418.3 2889.4C1422.6 2891.2 1425.1 2901.0 1422.0 2904.0C1419.0 2907.1 1404.3 2909.5 1400.0 2907.7C1395.7 2905.9 1393.3 2896.1 1396.3 2893.0Z" fill="#e0bac7" opacity="0.92" filter="url(#fPurp)"/>
<path d="M1528.4 2915.0C1531.5 2912.0 1546.2 2909.5 1550.5 2911.4C1554.7 2913.2 1557.2 2923.0 1554.1 2926.1C1551.1 2929.1 1536.4 2931.6 1532.1 2929.7C1527.8 2927.9 1525.4 2918.1 1528.4 2915.0Z" fill="#e0bac7" opacity="0.92" filter="url(#fPurp)"/>
<g filter="url(#fPurp)">
<path d="M1088.1 2997.6C1099.1 3001.0 1134.6 3010.2 1154.1 3017.8C1173.7 3025.4 1192.0 3033.1 1205.5 3043.5C1219.0 3053.9 1222.6 3074.1 1234.9 3080.2C1247.1 3086.3 1271.6 3080.2 1278.9 3080.2" fill="none" stroke="#a078c8" stroke-width="21" stroke-linecap="round"/>
<path d="M1238.5 3080.2C1238.8 3088.7 1241.0 3115.7 1240.4 3131.6C1239.8 3147.5 1235.8 3168.3 1234.9 3175.6" fill="none" stroke="#a078c8" stroke-width="18" stroke-linecap="round"/>
<path d="M1488.1 3065.5C1493.0 3055.1 1510.7 3050.8 1521.1 3050.8C1531.5 3050.8 1545.6 3054.5 1550.5 3065.5C1555.4 3076.5 1556.6 3107.1 1550.5 3116.9C1544.3 3126.7 1523.5 3124.8 1513.8 3124.2C1504.0 3123.6 1496.0 3123.0 1491.7 3113.2C1487.5 3103.4 1483.2 3075.9 1488.1 3065.5Z" fill="#a078c8"/>
<path d="M1025.0 3201.3C1035.5 3195.2 1076.9 3198.2 1088.1 3205.0C1099.2 3211.7 1099.1 3234.6 1091.7 3241.7C1084.4 3248.7 1055.2 3247.2 1044.0 3247.2C1032.9 3247.2 1028.1 3249.3 1025.0 3241.7C1021.8 3234.0 1014.4 3207.4 1025.0 3201.3Z" fill="#a078c8"/>
<path d="M1139.4 3227.0C1146.8 3225.7 1176.1 3220.9 1183.5 3219.6" fill="none" stroke="#a078c8" stroke-width="18" stroke-linecap="round"/>
<path d="M1587.2 3025.1C1589.6 3029.4 1599.4 3046.5 1601.8 3050.8" fill="none" stroke="#a078c8" stroke-width="16" stroke-linecap="round"/>
<path d="M1392.7 2951.7C1395.1 2951.7 1404.9 2951.7 1407.3 2951.7" fill="none" stroke="#a078c8" stroke-width="14" stroke-linecap="round"/>
</g>
<g transform="rotate(-12 1318 3101)" opacity="1.0">
<rect x="885.0" y="2744.0" width="865.0" height="714.7" fill="#000" filter="url(#fStreakD)"/>
</g>
<g opacity="0.6">
<path d="M1040 3232h16v16h-16zM1184 2928h16v16h-16zM1200 3040h16v16h-16zM1248 3056h16v16h-16zM1312 3040h16v16h-16zM1344 2896h16v16h-16zM1344 2960h16v16h-16zM1360 3216h16v16h-16zM1392 3008h16v16h-16zM1408 3072h16v16h-16zM1408 3120h16v16h-16zM1424 2992h16v16h-16zM1456 2976h16v16h-16zM1456 3280h16v16h-16zM1472 3152h16v16h-16zM1488 3056h16v16h-16zM1504 3008h16v16h-16zM1504 3040h16v16h-16zM1536 2992h16v16h-16zM1552 3024h16v16h-16zM1552 3232h16v16h-16zM1568 3088h16v16h-16z" fill="#c92a30"/>
<path d="M1040 3264h16v16h-16zM1104 2992h16v16h-16zM1136 2992h16v16h-16zM1152 2944h16v16h-16zM1168 3008h16v16h-16zM1312 3136h16v16h-16zM1328 3104h16v16h-16zM1344 2992h16v16h-16zM1360 2912h16v16h-16zM1360 3056h16v16h-16zM1376 3008h16v16h-16zM1408 2928h16v16h-16zM1424 2960h16v16h-16zM1424 3056h16v16h-16zM1424 3136h16v16h-16zM1456 3008h16v16h-16zM1488 3040h16v16h-16zM1504 3072h16v16h-16zM1536 3120h16v16h-16zM1552 3136h16v16h-16z" fill="#d8482c"/>
<path d="M1120 3040h16v16h-16zM1168 2896h16v16h-16zM1168 2992h16v16h-16zM1168 3056h16v16h-16zM1184 3248h16v16h-16zM1232 2912h16v16h-16zM1232 2944h16v16h-16zM1296 2928h16v16h-16zM1328 3088h16v16h-16zM1360 2928h16v16h-16zM1360 3040h16v16h-16zM1360 3152h16v16h-16zM1408 3136h16v16h-16zM1440 3008h16v16h-16zM1472 3008h16v16h-16zM1472 3120h16v16h-16zM1488 3152h16v16h-16zM1552 3008h16v16h-16z" fill="#d63528"/>
<path d="M1120 2960h16v16h-16zM1120 3024h16v16h-16zM1136 3296h16v16h-16zM1216 2976h16v16h-16zM1264 3040h16v16h-16zM1328 3056h16v16h-16zM1360 3072h16v16h-16zM1392 3088h16v16h-16zM1392 3216h16v16h-16zM1408 3152h16v16h-16zM1424 2944h16v16h-16zM1424 3264h16v16h-16zM1440 2928h16v16h-16zM1456 2944h16v16h-16zM1456 3136h16v16h-16zM1488 3104h16v16h-16zM1536 3072h16v16h-16zM1536 3152h16v16h-16zM1552 3040h16v16h-16zM1568 3152h16v16h-16z" fill="#cf3f25"/>
</g>
<g transform="rotate(-12 1318 3101)" opacity="0.6">
<rect x="885.0" y="2744.0" width="865.0" height="714.7" fill="#000" filter="url(#fStreakL)"/>
</g>
<path d="M1014.7 3054.5C1024.5 3039.2 1055.7 3049.0 1073.4 3050.8C1091.1 3052.7 1107.0 3058.2 1121.1 3065.5C1135.2 3072.8 1148.9 3082.6 1157.8 3094.9C1166.7 3107.1 1173.1 3124.8 1174.3 3138.9C1175.5 3153.0 1171.6 3170.4 1165.1 3179.3C1158.7 3188.1 1148.0 3192.1 1135.8 3192.1C1123.5 3192.1 1105.2 3185.1 1091.7 3179.3C1078.3 3173.5 1067.9 3163.4 1055.0 3157.2C1042.2 3151.1 1021.4 3159.7 1014.7 3142.6C1008.0 3125.4 1004.9 3069.8 1014.7 3054.5Z" fill="none" stroke="#8e1f3c" stroke-width="34" opacity="0.75" filter="url(#fRough)"/>
<path d="M1014.7 3054.5C1024.5 3039.2 1055.7 3049.0 1073.4 3050.8C1091.1 3052.7 1107.0 3058.2 1121.1 3065.5C1135.2 3072.8 1148.9 3082.6 1157.8 3094.9C1166.7 3107.1 1173.1 3124.8 1174.3 3138.9C1175.5 3153.0 1171.6 3170.4 1165.1 3179.3C1158.7 3188.1 1148.0 3192.1 1135.8 3192.1C1123.5 3192.1 1105.2 3185.1 1091.7 3179.3C1078.3 3173.5 1067.9 3163.4 1055.0 3157.2C1042.2 3151.1 1021.4 3159.7 1014.7 3142.6C1008.0 3125.4 1004.9 3069.8 1014.7 3054.5Z" fill="#cac5c8" stroke="#5b2a3c" stroke-width="5" filter="url(#fRough)"/>
<rect x="1464.2" y="3264.8" width="147.8" height="55.2" fill="#f7f7f7"/>
</g>
<text x="1536.5" y="3296.5" font-size="34" text-anchor="middle">100 μm</text>
<line x1="1476.3" y1="3310.5" x2="1594.5" y2="3310.5" stroke="#111" stroke-width="3"/>
<clipPath id="cp6"><rect x="1025.0" y="3339.0" width="587.0" height="439.0"/></clipPath>
<g clip-path="url(#cp6)">
<rect x="1025.0" y="3339.0" width="587.0" height="440.0" fill="#ba2a52"/>
<path d="M1040 3568h16v16h-16zM1072 3728h16v16h-16zM1088 3696h16v16h-16zM1200 3600h16v16h-16zM1200 3712h16v16h-16zM1216 3360h16v16h-16zM1216 3696h16v16h-16zM1232 3536h16v16h-16zM1280 3536h16v16h-16zM1296 3552h16v16h-16zM1360 3488h16v16h-16zM1376 3712h16v16h-16zM1408 3360h16v16h-16zM1408 3488h16v16h-16zM1408 3600h16v16h-16zM1424 3424h16v16h-16zM1440 3408h16v16h-16zM1456 3408h16v16h-16zM1472 3648h16v16h-16zM1504 3680h16v16h-16zM1520 3456h16v16h-16zM1520 3488h16v16h-16zM1536 3584h16v16h-16zM1568 3472h16v16h-16zM1584 3440h16v16h-16z" fill="#c22b3c"/>
<path d="M1040 3584h16v16h-16zM1056 3616h16v16h-16zM1072 3744h16v16h-16zM1104 3536h16v16h-16zM1120 3712h16v16h-16zM1200 3424h16v16h-16zM1200 3648h16v16h-16zM1200 3728h16v16h-16zM1216 3440h16v16h-16zM1232 3488h16v16h-16zM1264 3472h16v16h-16zM1280 3520h16v16h-16zM1296 3392h16v16h-16zM1296 3504h16v16h-16zM1312 3584h16v16h-16zM1344 3392h16v16h-16zM1344 3488h16v16h-16zM1344 3584h16v16h-16zM1344 3648h16v16h-16zM1392 3744h16v16h-16zM1424 3552h16v16h-16zM1424 3712h16v16h-16zM1504 3520h16v16h-16zM1520 3472h16v16h-16zM1520 3536h16v16h-16zM1520 3600h16v16h-16zM1536 3440h16v16h-16zM1536 3696h16v16h-16zM1568 3424h16v16h-16z" fill="#c8342f"/>
<path d="M1040 3536h16v16h-16zM1056 3712h16v16h-16zM1152 3680h16v16h-16zM1216 3584h16v16h-16zM1264 3584h16v16h-16zM1328 3744h16v16h-16zM1392 3472h16v16h-16zM1408 3504h16v16h-16zM1408 3584h16v16h-16zM1424 3584h16v16h-16zM1456 3472h16v16h-16zM1456 3744h16v16h-16zM1472 3504h16v16h-16zM1488 3408h16v16h-16zM1552 3520h16v16h-16zM1552 3648h16v16h-16zM1584 3744h16v16h-16z" fill="#b02649"/>
<path d="M1104 3392h16v16h-16zM1120 3664h16v16h-16zM1136 3440h16v16h-16zM1136 3632h16v16h-16zM1168 3360h16v16h-16zM1184 3472h16v16h-16zM1248 3712h16v16h-16zM1280 3664h16v16h-16zM1328 3504h16v16h-16zM1376 3648h16v16h-16zM1392 3520h16v16h-16zM1392 3696h16v16h-16zM1408 3552h16v16h-16zM1424 3680h16v16h-16zM1440 3648h16v16h-16zM1472 3632h16v16h-16zM1472 3680h16v16h-16zM1520 3696h16v16h-16zM1520 3744h16v16h-16zM1536 3472h16v16h-16zM1536 3504h16v16h-16zM1584 3520h16v16h-16zM1584 3536h16v16h-16zM1584 3616h16v16h-16z" fill="#a62a50"/>
<path d="M1056 3664h16v16h-16zM1088 3632h16v16h-16zM1168 3536h16v16h-16zM1216 3664h16v16h-16zM1232 3616h16v16h-16zM1264 3648h16v16h-16zM1296 3712h16v16h-16zM1328 3584h16v16h-16zM1408 3408h16v16h-16zM1408 3680h16v16h-16zM1424 3568h16v16h-16zM1456 3392h16v16h-16zM1456 3488h16v16h-16zM1456 3520h16v16h-16zM1488 3456h16v16h-16z" fill="#cf2a52"/>
<g transform="rotate(-19 1318 3557)" opacity="0.4">
<rect x="885.0" y="3199.0" width="867.0" height="716.0" fill="#000" filter="url(#fStreakR)"/>
</g>
<g opacity="0.55">
<path d="M1088 3440h16v16h-16zM1120 3552h16v16h-16zM1152 3472h16v16h-16zM1184 3680h16v16h-16zM1184 3712h16v16h-16zM1312 3568h16v16h-16zM1328 3616h16v16h-16zM1344 3520h16v16h-16zM1360 3520h16v16h-16zM1424 3744h16v16h-16zM1456 3376h16v16h-16zM1520 3728h16v16h-16z" fill="#d0382c"/>
<path d="M1120 3584h16v16h-16zM1152 3648h16v16h-16zM1216 3344h16v16h-16zM1296 3568h16v16h-16zM1360 3664h16v16h-16zM1408 3440h16v16h-16zM1456 3616h16v16h-16zM1472 3584h16v16h-16zM1520 3680h16v16h-16zM1536 3360h16v16h-16zM1536 3712h16v16h-16zM1536 3744h16v16h-16zM1552 3680h16v16h-16z" fill="#cc2a40"/>
<path d="M1072 3344h16v16h-16zM1136 3696h16v16h-16zM1152 3680h16v16h-16zM1232 3696h16v16h-16zM1232 3728h16v16h-16zM1248 3696h16v16h-16zM1280 3648h16v16h-16zM1312 3648h16v16h-16zM1344 3712h16v16h-16zM1360 3408h16v16h-16zM1360 3728h16v16h-16zM1392 3632h16v16h-16zM1424 3488h16v16h-16zM1424 3696h16v16h-16zM1456 3648h16v16h-16zM1488 3360h16v16h-16zM1488 3568h16v16h-16zM1520 3456h16v16h-16zM1520 3568h16v16h-16zM1568 3584h16v16h-16z" fill="#c8402a"/>
</g>
<path d="M1025.7 3525.5C1036.7 3518.2 1075.8 3512.0 1091.7 3510.8C1107.6 3509.6 1124.2 3513.3 1121.1 3518.2C1118.0 3523.1 1089.3 3534.1 1073.4 3540.2C1057.5 3546.3 1033.6 3557.3 1025.7 3554.9C1017.7 3552.4 1014.7 3532.8 1025.7 3525.5Z" fill="#e8c2cd" opacity="0.92" filter="url(#fPurp)"/>
<path d="M1036.7 3650.3C1048.9 3648.4 1090.5 3653.9 1110.1 3657.6C1129.7 3661.3 1149.2 3668.0 1154.1 3672.3C1159.0 3676.6 1159.0 3683.9 1139.4 3683.3C1119.9 3682.7 1053.8 3674.1 1036.7 3668.6C1019.6 3663.1 1024.5 3652.1 1036.7 3650.3Z" fill="#e8c2cd" opacity="0.92" filter="url(#fPurp)"/>
<path d="M1154.1 3687.0C1157.2 3673.5 1182.3 3679.6 1190.8 3694.3C1199.4 3709.0 1208.6 3761.6 1205.5 3775.0C1202.4 3788.5 1181.0 3789.7 1172.5 3775.0C1163.9 3760.4 1151.1 3700.4 1154.1 3687.0Z" fill="#e8c2cd" opacity="0.92" filter="url(#fPurp)"/>
<path d="M1234.9 3672.3C1239.8 3651.5 1256.9 3647.8 1264.2 3650.3C1271.6 3652.7 1280.1 3666.2 1278.9 3687.0C1277.7 3707.8 1264.2 3760.4 1256.9 3775.0C1249.5 3789.7 1238.5 3792.2 1234.9 3775.0C1231.2 3757.9 1230.0 3693.1 1234.9 3672.3Z" fill="#e8c2cd" opacity="0.92" filter="url(#fPurp)"/>
<path d="M1121.1 3507.2C1126.0 3503.5 1162.1 3498.6 1176.1 3503.5C1190.2 3508.4 1182.9 3531.0 1205.5 3536.5C1228.1 3542.0 1294.8 3533.5 1311.9 3536.5C1329.1 3539.6 1317.4 3549.4 1308.3 3554.9C1299.1 3560.4 1270.3 3562.2 1256.9 3569.5C1243.4 3576.9 1233.6 3588.5 1227.5 3598.9C1221.4 3609.3 1219.0 3621.5 1220.2 3631.9C1221.4 3642.3 1228.7 3652.1 1234.9 3661.3C1241.0 3670.5 1253.8 3676.6 1256.9 3687.0C1259.9 3697.4 1258.1 3709.0 1253.2 3723.7C1248.3 3738.3 1236.7 3766.5 1227.5 3775.0C1218.3 3783.6 1204.3 3789.7 1198.2 3775.0C1192.0 3760.4 1199.4 3704.7 1190.8 3687.0C1182.3 3669.2 1163.3 3672.3 1146.8 3668.6C1130.3 3665.0 1109.5 3669.2 1091.7 3665.0C1074.0 3660.7 1048.3 3648.4 1040.4 3642.9C1032.4 3637.4 1033.6 3636.2 1044.0 3631.9C1054.4 3627.6 1084.4 3621.5 1102.8 3617.2C1121.1 3613.0 1143.7 3616.6 1154.1 3606.2C1164.5 3595.8 1166.4 3568.3 1165.1 3554.9C1163.9 3541.4 1154.1 3533.5 1146.8 3525.5C1139.4 3517.6 1116.2 3510.8 1121.1 3507.2Z" fill="#9c70c2" filter="url(#fPurp)"/>
<path d="M1176.1 3576.9C1185.9 3568.3 1211.6 3565.9 1220.2 3569.5C1228.7 3573.2 1230.0 3585.4 1227.5 3598.9C1225.1 3612.4 1215.9 3639.3 1205.5 3650.3C1195.1 3661.3 1179.2 3663.1 1165.1 3665.0C1151.1 3666.8 1130.3 3665.0 1121.1 3661.3C1111.9 3657.6 1103.4 3649.7 1110.1 3642.9C1116.8 3636.2 1150.5 3631.9 1161.5 3620.9C1172.5 3609.9 1166.4 3585.4 1176.1 3576.9Z" fill="#5f5a9c" opacity="0.8" filter="url(#fPurp)"/>
<path d="M1121.1 3507.2C1126.0 3503.5 1162.1 3498.6 1176.1 3503.5C1190.2 3508.4 1182.9 3531.0 1205.5 3536.5C1228.1 3542.0 1294.8 3533.5 1311.9 3536.5C1329.1 3539.6 1317.4 3549.4 1308.3 3554.9C1299.1 3560.4 1270.3 3562.2 1256.9 3569.5C1243.4 3576.9 1233.6 3588.5 1227.5 3598.9C1221.4 3609.3 1219.0 3621.5 1220.2 3631.9C1221.4 3642.3 1228.7 3652.1 1234.9 3661.3C1241.0 3670.5 1253.8 3676.6 1256.9 3687.0C1259.9 3697.4 1258.1 3709.0 1253.2 3723.7C1248.3 3738.3 1236.7 3766.5 1227.5 3775.0C1218.3 3783.6 1204.3 3789.7 1198.2 3775.0C1192.0 3760.4 1199.4 3704.7 1190.8 3687.0C1182.3 3669.2 1163.3 3672.3 1146.8 3668.6C1130.3 3665.0 1109.5 3669.2 1091.7 3665.0C1074.0 3660.7 1048.3 3648.4 1040.4 3642.9C1032.4 3637.4 1033.6 3636.2 1044.0 3631.9C1054.4 3627.6 1084.4 3621.5 1102.8 3617.2C1121.1 3613.0 1143.7 3616.6 1154.1 3606.2C1164.5 3595.8 1166.4 3568.3 1165.1 3554.9C1163.9 3541.4 1154.1 3533.5 1146.8 3525.5C1139.4 3517.6 1116.2 3510.8 1121.1 3507.2Z" fill="#000" filter="url(#fPurpN)" opacity="0.7"/>
<path d="M1345.0 3527.3C1349.2 3527.0 1366.4 3525.8 1370.6 3525.5" fill="none" stroke="#b060b8" stroke-width="12" stroke-linecap="round"/>
<g transform="rotate(-19 1318 3557)" opacity="0.8">
<rect x="885.0" y="3199.0" width="867.0" height="716.0" fill="#000" filter="url(#fStreakD)"/>
</g>
<g opacity="0.5">
<path d="M1120 3504h16v16h-16zM1136 3488h16v16h-16zM1152 3648h16v16h-16zM1184 3712h16v16h-16zM1200 3456h16v16h-16zM1232 3632h16v16h-16zM1280 3552h16v16h-16zM1280 3632h16v16h-16zM1328 3648h16v16h-16zM1392 3488h16v16h-16zM1440 3456h16v16h-16zM1440 3600h16v16h-16zM1472 3664h16v16h-16zM1504 3648h16v16h-16zM1536 3520h16v16h-16zM1568 3744h16v16h-16z" fill="#d63a2a"/>
<path d="M1040 3552h16v16h-16zM1072 3712h16v16h-16zM1120 3696h16v16h-16zM1184 3344h16v16h-16zM1200 3680h16v16h-16zM1200 3696h16v16h-16zM1296 3344h16v16h-16zM1408 3568h16v16h-16zM1424 3728h16v16h-16z" fill="#cf4428"/>
<path d="M1040 3504h16v16h-16zM1056 3600h16v16h-16zM1104 3728h16v16h-16zM1120 3520h16v16h-16zM1120 3728h16v16h-16zM1152 3440h16v16h-16zM1168 3600h16v16h-16zM1216 3648h16v16h-16zM1248 3536h16v16h-16zM1264 3712h16v16h-16zM1312 3504h16v16h-16zM1328 3696h16v16h-16zM1344 3664h16v16h-16zM1424 3584h16v16h-16zM1424 3632h16v16h-16zM1424 3744h16v16h-16zM1456 3568h16v16h-16zM1472 3584h16v16h-16zM1488 3712h16v16h-16zM1568 3632h16v16h-16z" fill="#d02c3a"/>
</g>
<g transform="rotate(-19 1318 3557)" opacity="0.7">
<rect x="885.0" y="3199.0" width="867.0" height="716.0" fill="#000" filter="url(#fStreakL)"/>
</g>
<path d="M1361.5 3480.7Q1477.1 3441.1 1585.3 3436.7Q1484.4 3477.8 1361.5 3480.7Z" fill="#f0d2da" stroke="#7a3048" stroke-width="2"/>
<path d="M1550.5 3415.4C1556.6 3414.2 1576.9 3410.2 1587.2 3408.1C1597.4 3405.9 1608.0 3403.5 1612.1 3402.6" fill="none" stroke="#edd0d8" stroke-width="8"/>
<path d="M1045.9 3586.1C1049.5 3577.8 1060.9 3562.2 1073.4 3554.9C1085.9 3547.5 1108.9 3542.0 1121.1 3542.0C1133.3 3542.0 1143.7 3547.8 1146.8 3554.9C1149.8 3561.9 1145.6 3575.0 1139.4 3584.2C1133.3 3593.4 1121.1 3604.3 1110.1 3609.9C1099.1 3615.5 1083.2 3618.9 1073.4 3618.0C1063.6 3617.1 1056.0 3609.7 1051.4 3604.4C1046.8 3599.1 1042.2 3594.3 1045.9 3586.1Z" fill="#efcdd6" stroke="#6a2a40" stroke-width="5" filter="url(#fRough)"/>
<rect x="1464.2" y="3724.8" width="149.8" height="55.2" fill="#f7f7f7"/>
</g>
<text x="1536.5" y="3764.0" font-size="34" text-anchor="middle">100 μm</text>
<line x1="1476.3" y1="3777.5" x2="1594.5" y2="3777.5" stroke="#111" stroke-width="3"/>
<clipPath id="cp7"><rect x="2288.3" y="2882.8" width="598.2" height="430.4"/></clipPath>
<g clip-path="url(#cp7)">
<rect x="2288.3" y="2882.8" width="598.2" height="430.4" fill="#b38391"/>
<path d="M2304 2992h16v16h-16zM2336 3248h16v16h-16zM2352 2912h16v16h-16zM2352 3216h16v16h-16zM2368 2912h16v16h-16zM2368 3136h16v16h-16zM2368 3184h16v16h-16zM2416 3136h16v16h-16zM2432 2928h16v16h-16zM2432 2960h16v16h-16zM2432 3104h16v16h-16zM2432 3296h16v16h-16zM2448 3040h16v16h-16zM2448 3296h16v16h-16zM2480 3248h16v16h-16zM2496 3264h16v16h-16zM2512 2896h16v16h-16zM2528 2928h16v16h-16zM2528 3136h16v16h-16zM2528 3216h16v16h-16zM2576 3104h16v16h-16zM2640 2896h16v16h-16zM2688 3008h16v16h-16zM2688 3136h16v16h-16zM2704 3104h16v16h-16zM2720 3088h16v16h-16zM2752 3056h16v16h-16zM2752 3152h16v16h-16zM2752 3168h16v16h-16zM2784 3024h16v16h-16zM2784 3088h16v16h-16zM2800 2976h16v16h-16zM2816 3184h16v16h-16zM2848 3216h16v16h-16zM2864 2992h16v16h-16z" fill="#bd8f9b"/>
<path d="M2320 3008h16v16h-16zM2320 3200h16v16h-16zM2320 3232h16v16h-16zM2336 3232h16v16h-16zM2336 3264h16v16h-16zM2352 2944h16v16h-16zM2368 3264h16v16h-16zM2384 3104h16v16h-16zM2400 2896h16v16h-16zM2400 2912h16v16h-16zM2400 3216h16v16h-16zM2416 2960h16v16h-16zM2416 3120h16v16h-16zM2448 2992h16v16h-16zM2464 3280h16v16h-16zM2480 3040h16v16h-16zM2496 2992h16v16h-16zM2496 3152h16v16h-16zM2512 3184h16v16h-16zM2576 2992h16v16h-16zM2576 3184h16v16h-16zM2608 2896h16v16h-16zM2608 2912h16v16h-16zM2624 2992h16v16h-16zM2640 3072h16v16h-16zM2672 2960h16v16h-16zM2688 2944h16v16h-16zM2688 2960h16v16h-16zM2736 3296h16v16h-16zM2752 3184h16v16h-16zM2768 3056h16v16h-16zM2768 3168h16v16h-16zM2784 3072h16v16h-16zM2784 3184h16v16h-16zM2800 3040h16v16h-16zM2864 3216h16v16h-16z" fill="#b88a97"/>
<path d="M2320 2928h16v16h-16zM2320 3136h16v16h-16zM2336 2992h16v16h-16zM2336 3200h16v16h-16zM2368 2960h16v16h-16zM2384 3136h16v16h-16zM2400 3040h16v16h-16zM2464 2944h16v16h-16zM2464 3088h16v16h-16zM2464 3200h16v16h-16zM2480 2944h16v16h-16zM2496 2976h16v16h-16zM2512 2912h16v16h-16zM2512 2976h16v16h-16zM2512 2992h16v16h-16zM2544 3056h16v16h-16zM2544 3200h16v16h-16zM2560 3056h16v16h-16zM2592 2896h16v16h-16zM2640 3232h16v16h-16zM2656 3040h16v16h-16zM2656 3168h16v16h-16zM2672 2928h16v16h-16zM2704 3200h16v16h-16zM2720 3200h16v16h-16zM2768 2992h16v16h-16zM2784 2928h16v16h-16zM2832 3136h16v16h-16zM2832 3152h16v16h-16z" fill="#ad7b8a"/>
<path d="M2304 3152h16v16h-16zM2304 3232h16v16h-16zM2304 3280h16v16h-16zM2320 3216h16v16h-16zM2336 2976h16v16h-16zM2352 3120h16v16h-16zM2368 3120h16v16h-16zM2384 3120h16v16h-16zM2384 3152h16v16h-16zM2384 3232h16v16h-16zM2400 3088h16v16h-16zM2416 3024h16v16h-16zM2432 3088h16v16h-16zM2432 3184h16v16h-16zM2448 2928h16v16h-16zM2528 3024h16v16h-16zM2544 2896h16v16h-16zM2544 3248h16v16h-16zM2560 2992h16v16h-16zM2576 3008h16v16h-16zM2576 3200h16v16h-16zM2576 3296h16v16h-16zM2592 3136h16v16h-16zM2608 3056h16v16h-16zM2608 3200h16v16h-16zM2624 3248h16v16h-16zM2640 3088h16v16h-16zM2672 3072h16v16h-16zM2688 2928h16v16h-16zM2688 3088h16v16h-16zM2704 3120h16v16h-16zM2704 3232h16v16h-16zM2720 3264h16v16h-16zM2720 3280h16v16h-16zM2720 3296h16v16h-16zM2752 3008h16v16h-16zM2752 3040h16v16h-16zM2784 3168h16v16h-16zM2800 3024h16v16h-16zM2800 3072h16v16h-16zM2816 3024h16v16h-16zM2816 3136h16v16h-16zM2832 2976h16v16h-16zM2832 3184h16v16h-16z" fill="#aa7587"/>
<path d="M2304 3072h16v16h-16zM2304 3200h16v16h-16zM2320 3280h16v16h-16zM2336 2896h16v16h-16zM2368 2928h16v16h-16zM2368 3024h16v16h-16zM2384 3040h16v16h-16zM2384 3216h16v16h-16zM2480 3216h16v16h-16zM2496 3280h16v16h-16zM2528 3152h16v16h-16zM2528 3200h16v16h-16zM2544 3264h16v16h-16zM2576 3056h16v16h-16zM2608 2960h16v16h-16zM2640 3040h16v16h-16zM2672 3152h16v16h-16zM2704 3024h16v16h-16zM2752 3024h16v16h-16zM2752 3136h16v16h-16zM2768 2960h16v16h-16zM2768 3120h16v16h-16zM2816 2896h16v16h-16zM2848 3072h16v16h-16zM2848 3296h16v16h-16zM2864 2928h16v16h-16z" fill="#b07f8d"/>
<path d="M2320 3056h16v16h-16zM2320 3168h16v16h-16zM2320 3248h16v16h-16zM2352 2944h16v16h-16zM2352 3168h16v16h-16zM2448 2896h16v16h-16zM2624 3296h16v16h-16zM2672 2960h16v16h-16zM2704 3296h16v16h-16zM2736 3072h16v16h-16zM2736 3184h16v16h-16zM2752 3264h16v16h-16zM2800 3200h16v16h-16zM2816 2976h16v16h-16zM2816 3120h16v16h-16z" fill="#b4b2b3"/>
<path d="M2304 3072h16v16h-16zM2320 2960h16v16h-16zM2320 3184h16v16h-16zM2352 2896h16v16h-16zM2352 3280h16v16h-16zM2400 3104h16v16h-16zM2528 3200h16v16h-16zM2560 2896h16v16h-16zM2576 3104h16v16h-16zM2576 3216h16v16h-16zM2624 2960h16v16h-16zM2640 3120h16v16h-16zM2656 2960h16v16h-16zM2672 2976h16v16h-16zM2688 3296h16v16h-16zM2704 3184h16v16h-16zM2736 2912h16v16h-16zM2736 2960h16v16h-16zM2800 2976h16v16h-16zM2800 3056h16v16h-16zM2816 2912h16v16h-16zM2816 2960h16v16h-16zM2816 3008h16v16h-16zM2816 3216h16v16h-16zM2832 2896h16v16h-16zM2832 2912h16v16h-16zM2848 2896h16v16h-16zM2848 2960h16v16h-16zM2848 2992h16v16h-16zM2848 3200h16v16h-16z" fill="#a9a8a9"/>
<path d="M2304 3296h16v16h-16zM2320 2944h16v16h-16zM2336 3104h16v16h-16zM2336 3232h16v16h-16zM2384 2896h16v16h-16zM2432 3072h16v16h-16zM2432 3136h16v16h-16zM2480 2928h16v16h-16zM2480 2976h16v16h-16zM2496 2928h16v16h-16zM2528 3168h16v16h-16zM2560 3280h16v16h-16zM2576 2896h16v16h-16zM2624 2944h16v16h-16zM2640 2960h16v16h-16zM2640 2992h16v16h-16zM2672 3280h16v16h-16zM2688 3184h16v16h-16zM2736 3120h16v16h-16zM2784 3216h16v16h-16zM2800 3280h16v16h-16zM2816 3248h16v16h-16zM2832 3152h16v16h-16zM2848 3136h16v16h-16zM2848 3248h16v16h-16z" fill="#bcbcbc"/>
<path d="M2384 3296h16v16h-16zM2416 3072h16v16h-16zM2432 3120h16v16h-16zM2432 3296h16v16h-16zM2480 2960h16v16h-16zM2480 3216h16v16h-16zM2512 3264h16v16h-16zM2560 3040h16v16h-16zM2560 3120h16v16h-16zM2560 3248h16v16h-16zM2672 3104h16v16h-16zM2864 3184h16v16h-16z" fill="#b184cc"/>
<g transform="rotate(-25 2587 3098)">
<rect x="2128.3" y="2722.8" width="918.2" height="750.4" fill="#000" filter="url(#fBlobD)" opacity="0.55"/>
<rect x="2128.3" y="2722.8" width="918.2" height="750.4" fill="#000" filter="url(#fBlobL)" opacity="0.85"/>
</g>
<rect x="2768.3" y="3261.8" width="119.7" height="53.2" fill="#f7f7f7"/>
</g>
<text x="2824.0" y="3297.1" font-size="34" text-anchor="middle">100 μm</text>
<line x1="2798.4" y1="3310.5" x2="2847.2" y2="3310.5" stroke="#111" stroke-width="3"/>
<clipPath id="cp8"><rect x="2288.3" y="3351.2" width="598.2" height="430.1"/></clipPath>
<g clip-path="url(#cp8)">
<rect x="2288.3" y="3351.2" width="598.2" height="430.1" fill="#8f8f8f"/>
<path d="M2304 3744h16v16h-16zM2320 3440h16v16h-16zM2384 3632h16v16h-16zM2384 3664h16v16h-16zM2400 3536h16v16h-16zM2416 3600h16v16h-16zM2432 3680h16v16h-16zM2448 3536h16v16h-16zM2448 3568h16v16h-16zM2448 3632h16v16h-16zM2448 3648h16v16h-16zM2448 3696h16v16h-16zM2448 3712h16v16h-16zM2448 3728h16v16h-16zM2464 3424h16v16h-16zM2464 3552h16v16h-16zM2480 3536h16v16h-16zM2480 3616h16v16h-16zM2496 3440h16v16h-16zM2496 3456h16v16h-16zM2496 3488h16v16h-16zM2496 3504h16v16h-16zM2496 3520h16v16h-16zM2496 3600h16v16h-16zM2496 3696h16v16h-16zM2512 3728h16v16h-16zM2528 3440h16v16h-16zM2528 3664h16v16h-16zM2528 3760h16v16h-16zM2544 3728h16v16h-16zM2544 3760h16v16h-16zM2560 3728h16v16h-16zM2576 3536h16v16h-16zM2576 3648h16v16h-16zM2576 3696h16v16h-16zM2592 3584h16v16h-16zM2592 3616h16v16h-16zM2592 3632h16v16h-16zM2592 3648h16v16h-16zM2592 3664h16v16h-16zM2592 3696h16v16h-16zM2592 3760h16v16h-16zM2608 3520h16v16h-16zM2624 3600h16v16h-16zM2624 3728h16v16h-16zM2640 3376h16v16h-16zM2640 3536h16v16h-16zM2640 3616h16v16h-16zM2656 3584h16v16h-16zM2656 3664h16v16h-16zM2672 3760h16v16h-16zM2688 3520h16v16h-16zM2688 3552h16v16h-16zM2688 3616h16v16h-16zM2688 3632h16v16h-16zM2688 3664h16v16h-16zM2688 3696h16v16h-16zM2688 3728h16v16h-16zM2704 3584h16v16h-16zM2704 3600h16v16h-16zM2720 3664h16v16h-16zM2736 3520h16v16h-16zM2736 3616h16v16h-16zM2752 3680h16v16h-16zM2752 3712h16v16h-16zM2752 3760h16v16h-16zM2768 3552h16v16h-16zM2768 3680h16v16h-16zM2768 3744h16v16h-16zM2784 3680h16v16h-16zM2800 3600h16v16h-16zM2800 3648h16v16h-16zM2848 3696h16v16h-16z" fill="#b06f85"/>
<path d="M2304 3376h16v16h-16zM2352 3712h16v16h-16zM2368 3472h16v16h-16zM2384 3680h16v16h-16zM2400 3648h16v16h-16zM2448 3616h16v16h-16zM2448 3760h16v16h-16zM2464 3376h16v16h-16zM2464 3600h16v16h-16zM2464 3616h16v16h-16zM2464 3696h16v16h-16zM2480 3376h16v16h-16zM2480 3552h16v16h-16zM2496 3584h16v16h-16zM2496 3648h16v16h-16zM2496 3680h16v16h-16zM2512 3616h16v16h-16zM2512 3680h16v16h-16zM2512 3712h16v16h-16zM2528 3600h16v16h-16zM2528 3632h16v16h-16zM2528 3648h16v16h-16zM2544 3552h16v16h-16zM2544 3584h16v16h-16zM2544 3616h16v16h-16zM2560 3584h16v16h-16zM2576 3456h16v16h-16zM2576 3488h16v16h-16zM2592 3520h16v16h-16zM2608 3504h16v16h-16zM2608 3552h16v16h-16zM2608 3680h16v16h-16zM2608 3760h16v16h-16zM2624 3520h16v16h-16zM2624 3536h16v16h-16zM2624 3632h16v16h-16zM2624 3712h16v16h-16zM2624 3760h16v16h-16zM2640 3456h16v16h-16zM2640 3520h16v16h-16zM2656 3472h16v16h-16zM2656 3552h16v16h-16zM2656 3680h16v16h-16zM2656 3760h16v16h-16zM2672 3536h16v16h-16zM2672 3568h16v16h-16zM2672 3584h16v16h-16zM2672 3664h16v16h-16zM2688 3440h16v16h-16zM2688 3488h16v16h-16zM2688 3600h16v16h-16zM2704 3376h16v16h-16zM2720 3648h16v16h-16zM2720 3680h16v16h-16zM2736 3536h16v16h-16zM2736 3648h16v16h-16zM2736 3664h16v16h-16zM2736 3712h16v16h-16zM2752 3472h16v16h-16zM2752 3488h16v16h-16zM2752 3600h16v16h-16zM2784 3648h16v16h-16zM2784 3696h16v16h-16zM2784 3728h16v16h-16zM2816 3520h16v16h-16zM2832 3488h16v16h-16zM2848 3360h16v16h-16zM2848 3616h16v16h-16zM2864 3744h16v16h-16z" fill="#b9788d"/>
<path d="M2304 3760h16v16h-16zM2384 3488h16v16h-16zM2432 3600h16v16h-16zM2464 3632h16v16h-16zM2464 3712h16v16h-16zM2464 3728h16v16h-16zM2480 3408h16v16h-16zM2480 3568h16v16h-16zM2480 3648h16v16h-16zM2496 3424h16v16h-16zM2496 3536h16v16h-16zM2496 3744h16v16h-16zM2512 3536h16v16h-16zM2512 3584h16v16h-16zM2512 3632h16v16h-16zM2512 3696h16v16h-16zM2528 3488h16v16h-16zM2528 3504h16v16h-16zM2528 3536h16v16h-16zM2544 3600h16v16h-16zM2544 3680h16v16h-16zM2560 3536h16v16h-16zM2576 3712h16v16h-16zM2576 3744h16v16h-16zM2592 3552h16v16h-16zM2592 3600h16v16h-16zM2592 3680h16v16h-16zM2592 3728h16v16h-16zM2608 3472h16v16h-16zM2608 3536h16v16h-16zM2608 3568h16v16h-16zM2608 3664h16v16h-16zM2624 3552h16v16h-16zM2640 3552h16v16h-16zM2640 3632h16v16h-16zM2640 3696h16v16h-16zM2656 3520h16v16h-16zM2656 3600h16v16h-16zM2672 3360h16v16h-16zM2672 3680h16v16h-16zM2688 3568h16v16h-16zM2688 3680h16v16h-16zM2688 3760h16v16h-16zM2704 3440h16v16h-16zM2704 3568h16v16h-16zM2704 3616h16v16h-16zM2704 3696h16v16h-16zM2704 3728h16v16h-16zM2736 3584h16v16h-16zM2752 3664h16v16h-16zM2768 3664h16v16h-16zM2784 3600h16v16h-16zM2800 3456h16v16h-16zM2800 3680h16v16h-16zM2816 3648h16v16h-16zM2832 3504h16v16h-16zM2848 3424h16v16h-16zM2848 3728h16v16h-16z" fill="#b57489"/>
<path d="M2336 3648h16v16h-16zM2400 3504h16v16h-16zM2400 3584h16v16h-16zM2400 3728h16v16h-16zM2416 3584h16v16h-16zM2464 3568h16v16h-16zM2464 3680h16v16h-16zM2480 3696h16v16h-16zM2480 3712h16v16h-16zM2480 3728h16v16h-16zM2512 3568h16v16h-16zM2512 3664h16v16h-16zM2512 3744h16v16h-16zM2528 3616h16v16h-16zM2528 3680h16v16h-16zM2528 3696h16v16h-16zM2528 3744h16v16h-16zM2544 3520h16v16h-16zM2544 3648h16v16h-16zM2544 3664h16v16h-16zM2544 3696h16v16h-16zM2544 3712h16v16h-16zM2560 3744h16v16h-16zM2576 3360h16v16h-16zM2576 3760h16v16h-16zM2592 3376h16v16h-16zM2592 3744h16v16h-16zM2608 3584h16v16h-16zM2608 3728h16v16h-16zM2608 3744h16v16h-16zM2624 3616h16v16h-16zM2624 3648h16v16h-16zM2624 3664h16v16h-16zM2640 3648h16v16h-16zM2640 3680h16v16h-16zM2640 3760h16v16h-16zM2656 3504h16v16h-16zM2656 3616h16v16h-16zM2672 3600h16v16h-16zM2672 3648h16v16h-16zM2704 3648h16v16h-16zM2704 3664h16v16h-16zM2704 3760h16v16h-16zM2720 3584h16v16h-16zM2720 3696h16v16h-16zM2720 3760h16v16h-16zM2736 3552h16v16h-16zM2736 3696h16v16h-16zM2752 3392h16v16h-16zM2752 3584h16v16h-16zM2752 3616h16v16h-16zM2768 3760h16v16h-16zM2784 3440h16v16h-16zM2784 3488h16v16h-16zM2784 3632h16v16h-16zM2784 3744h16v16h-16zM2800 3664h16v16h-16zM2832 3568h16v16h-16zM2832 3632h16v16h-16zM2864 3664h16v16h-16z" fill="#c08297"/>
<path d="M2320 3504h16v16h-16zM2320 3600h16v16h-16zM2320 3648h16v16h-16zM2320 3664h16v16h-16zM2336 3392h16v16h-16zM2352 3520h16v16h-16zM2352 3616h16v16h-16zM2368 3440h16v16h-16zM2368 3520h16v16h-16zM2368 3552h16v16h-16zM2368 3680h16v16h-16zM2400 3376h16v16h-16zM2400 3440h16v16h-16zM2400 3568h16v16h-16zM2416 3424h16v16h-16zM2416 3456h16v16h-16zM2416 3600h16v16h-16zM2416 3760h16v16h-16zM2464 3360h16v16h-16zM2464 3392h16v16h-16zM2480 3360h16v16h-16zM2480 3440h16v16h-16zM2480 3504h16v16h-16zM2480 3632h16v16h-16zM2496 3536h16v16h-16zM2512 3744h16v16h-16zM2528 3408h16v16h-16zM2560 3408h16v16h-16zM2576 3392h16v16h-16zM2576 3440h16v16h-16zM2624 3376h16v16h-16zM2624 3664h16v16h-16zM2640 3744h16v16h-16zM2656 3408h16v16h-16zM2656 3760h16v16h-16zM2704 3696h16v16h-16zM2720 3456h16v16h-16zM2752 3440h16v16h-16zM2784 3504h16v16h-16zM2784 3664h16v16h-16zM2800 3712h16v16h-16zM2816 3504h16v16h-16zM2816 3536h16v16h-16zM2832 3568h16v16h-16zM2848 3424h16v16h-16zM2848 3456h16v16h-16z" fill="#9b9b9b"/>
<path d="M2304 3616h16v16h-16zM2304 3712h16v16h-16zM2320 3440h16v16h-16zM2320 3520h16v16h-16zM2352 3408h16v16h-16zM2352 3552h16v16h-16zM2384 3392h16v16h-16zM2384 3472h16v16h-16zM2416 3728h16v16h-16zM2432 3472h16v16h-16zM2432 3536h16v16h-16zM2464 3536h16v16h-16zM2464 3664h16v16h-16zM2480 3408h16v16h-16zM2480 3552h16v16h-16zM2480 3568h16v16h-16zM2496 3488h16v16h-16zM2496 3568h16v16h-16zM2496 3584h16v16h-16zM2496 3632h16v16h-16zM2496 3680h16v16h-16zM2512 3552h16v16h-16zM2528 3584h16v16h-16zM2544 3472h16v16h-16zM2576 3376h16v16h-16zM2576 3488h16v16h-16zM2576 3616h16v16h-16zM2576 3744h16v16h-16zM2592 3696h16v16h-16zM2624 3696h16v16h-16zM2640 3488h16v16h-16zM2656 3440h16v16h-16zM2672 3488h16v16h-16zM2672 3664h16v16h-16zM2704 3376h16v16h-16zM2720 3488h16v16h-16zM2720 3584h16v16h-16zM2720 3648h16v16h-16zM2752 3520h16v16h-16zM2800 3680h16v16h-16zM2816 3424h16v16h-16zM2816 3600h16v16h-16zM2816 3696h16v16h-16zM2832 3728h16v16h-16zM2848 3568h16v16h-16zM2864 3520h16v16h-16zM2864 3680h16v16h-16z" fill="#8f8f8f"/>
<path d="M2304 3408h16v16h-16zM2304 3456h16v16h-16zM2320 3408h16v16h-16zM2320 3488h16v16h-16zM2336 3456h16v16h-16zM2336 3472h16v16h-16zM2352 3472h16v16h-16zM2352 3648h16v16h-16zM2352 3712h16v16h-16zM2352 3760h16v16h-16zM2368 3408h16v16h-16zM2400 3648h16v16h-16zM2416 3408h16v16h-16zM2464 3440h16v16h-16zM2496 3616h16v16h-16zM2544 3552h16v16h-16zM2560 3472h16v16h-16zM2560 3504h16v16h-16zM2560 3616h16v16h-16zM2592 3360h16v16h-16zM2608 3520h16v16h-16zM2608 3744h16v16h-16zM2624 3504h16v16h-16zM2624 3744h16v16h-16zM2640 3472h16v16h-16zM2640 3536h16v16h-16zM2672 3552h16v16h-16zM2688 3376h16v16h-16zM2688 3664h16v16h-16zM2736 3712h16v16h-16zM2752 3536h16v16h-16zM2752 3696h16v16h-16zM2768 3376h16v16h-16zM2768 3456h16v16h-16zM2784 3600h16v16h-16zM2800 3392h16v16h-16zM2800 3424h16v16h-16zM2800 3552h16v16h-16zM2816 3488h16v16h-16zM2816 3680h16v16h-16zM2832 3424h16v16h-16zM2832 3440h16v16h-16zM2832 3456h16v16h-16zM2848 3376h16v16h-16zM2848 3488h16v16h-16zM2848 3552h16v16h-16zM2864 3632h16v16h-16z" fill="#a4a4a4"/>
<g transform="rotate(-15 2587 3566)">
<rect x="2128.3" y="3191.2" width="918.2" height="750.1" fill="#000" filter="url(#fBlobK)" opacity="0.6"/>
<rect x="2128.3" y="3191.2" width="918.2" height="750.1" fill="#000" filter="url(#fBlobG)" opacity="0.9"/>
</g>
<rect x="2768.3" y="3729.2" width="119.7" height="53.8" fill="#f7f7f7"/>
</g>
<text x="2824.0" y="3764.5" font-size="34" text-anchor="middle">100 μm</text>
<line x1="2798.4" y1="3778.6" x2="2847.2" y2="3778.6" stroke="#111" stroke-width="3"/>
</svg>
</body></html>
